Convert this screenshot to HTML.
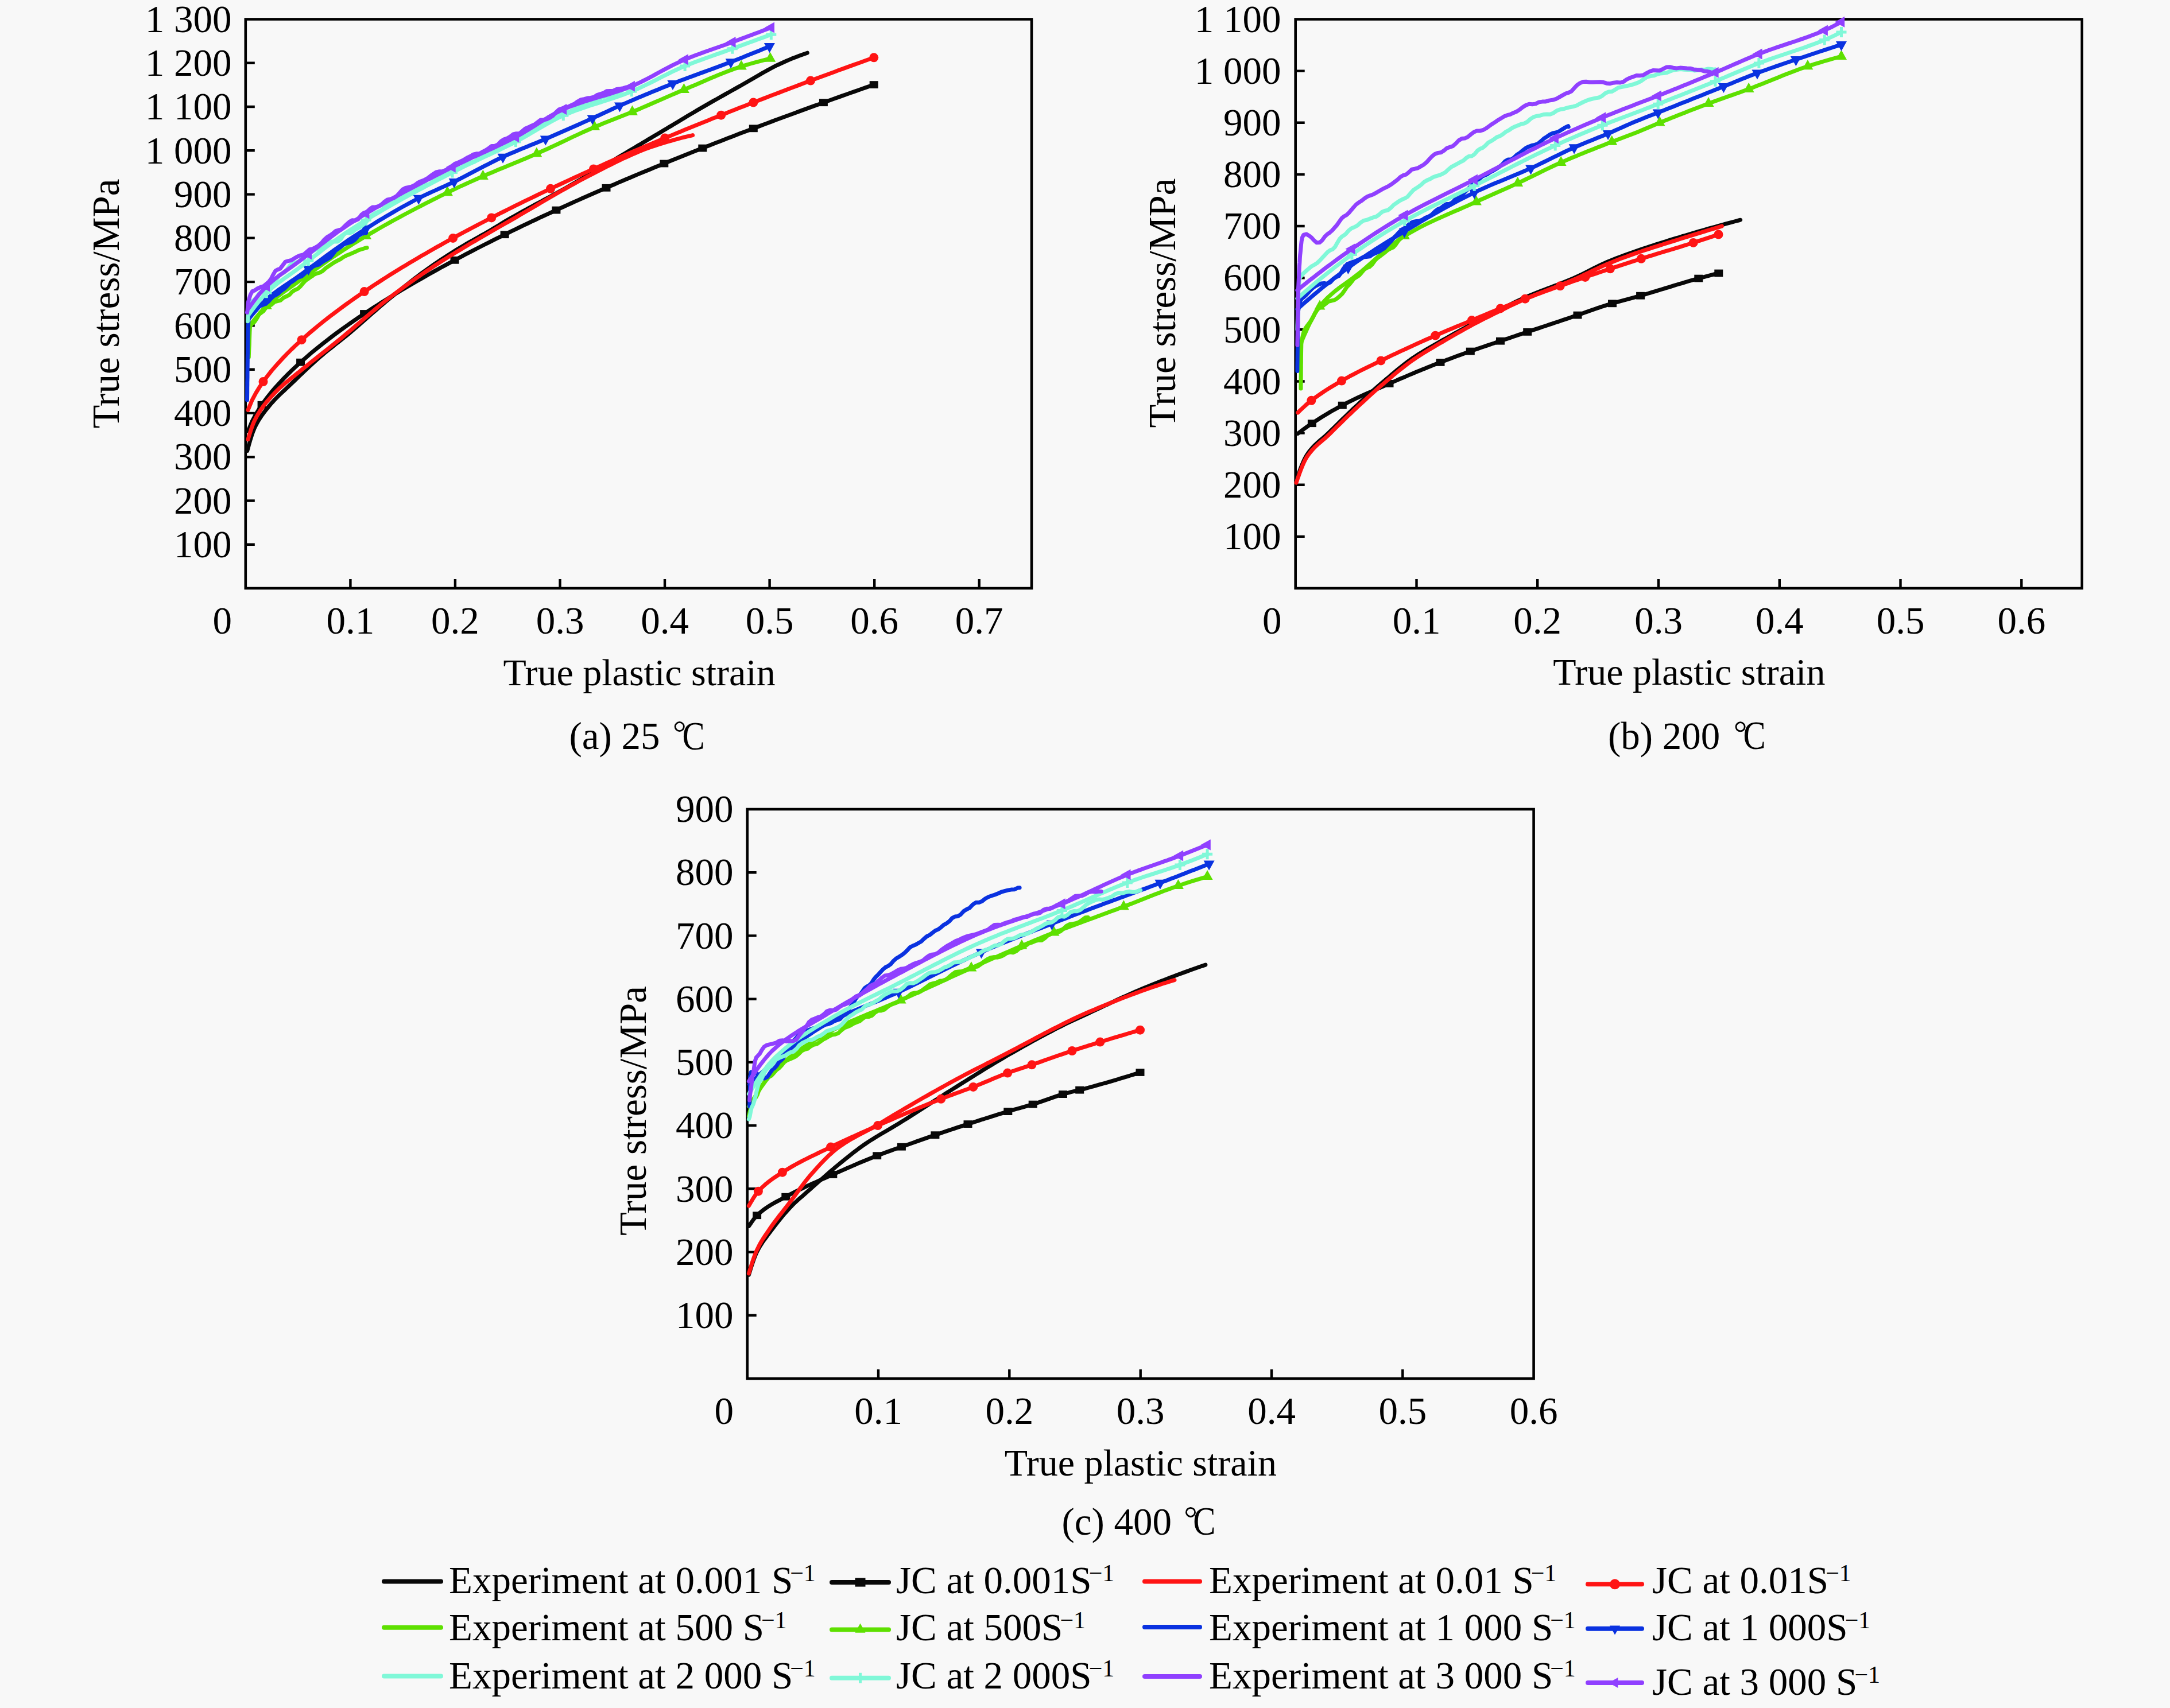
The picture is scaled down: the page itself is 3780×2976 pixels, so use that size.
<!DOCTYPE html>
<html><head><meta charset="utf-8"><style>
html,body{margin:0;padding:0;background:#f8f8f8;}
svg{display:block;}
text{font-family:"Liberation Serif",serif;fill:#000;}
</style></head><body>
<svg width="3780" height="2976" viewBox="0 0 3780 2976">
<rect width="3780" height="2976" fill="#f8f8f8"/>
<rect x="427.8" y="33.5" width="1369.2" height="991.5" fill="none" stroke="#000" stroke-width="4.6"/>
<path d="M427.8 948.7H443.8M427.8 872.5H443.8M427.8 796.2H443.8M427.8 719.9H443.8M427.8 643.7H443.8M427.8 567.4H443.8M427.8 491.1H443.8M427.8 414.8H443.8M427.8 338.6H443.8M427.8 262.3H443.8M427.8 186.0H443.8M427.8 109.8H443.8M610.4 1025.0V1009.0M792.9 1025.0V1009.0M975.5 1025.0V1009.0M1158.0 1025.0V1009.0M1340.6 1025.0V1009.0M1523.2 1025.0V1009.0M1705.7 1025.0V1009.0" stroke="#000" stroke-width="4.4" fill="none"/>
<text x="403.5" y="970.9" text-anchor="end" font-size="67" >100</text>
<text x="403.5" y="894.7" text-anchor="end" font-size="67" >200</text>
<text x="403.5" y="818.4" text-anchor="end" font-size="67" >300</text>
<text x="403.5" y="742.1" text-anchor="end" font-size="67" >400</text>
<text x="403.5" y="665.9" text-anchor="end" font-size="67" >500</text>
<text x="403.5" y="589.6" text-anchor="end" font-size="67" >600</text>
<text x="403.5" y="513.3" text-anchor="end" font-size="67" >700</text>
<text x="403.5" y="437.0" text-anchor="end" font-size="67" >800</text>
<text x="403.5" y="360.8" text-anchor="end" font-size="67" >900</text>
<text x="403.5" y="284.5" text-anchor="end" font-size="67" >1 000</text>
<text x="403.5" y="208.2" text-anchor="end" font-size="67" >1 100</text>
<text x="403.5" y="132.0" text-anchor="end" font-size="67" >1 200</text>
<text x="403.5" y="55.7" text-anchor="end" font-size="67" >1 300</text>
<text x="404.0" y="1103.5" text-anchor="end" font-size="67" >0</text>
<text x="610.4" y="1103.5" text-anchor="middle" font-size="67" >0.1</text>
<text x="792.9" y="1103.5" text-anchor="middle" font-size="67" >0.2</text>
<text x="975.5" y="1103.5" text-anchor="middle" font-size="67" >0.3</text>
<text x="1158.0" y="1103.5" text-anchor="middle" font-size="67" >0.4</text>
<text x="1340.6" y="1103.5" text-anchor="middle" font-size="67" >0.5</text>
<text x="1523.2" y="1103.5" text-anchor="middle" font-size="67" >0.6</text>
<text x="1705.7" y="1103.5" text-anchor="middle" font-size="67" >0.7</text>
<text transform="translate(206.8,529.0) rotate(-90)" text-anchor="middle" font-size="67">True stress/MPa</text>
<text x="1113.6" y="1194.0" text-anchor="middle" font-size="66" >True plastic strain</text>
<text x="991.5" y="1305.0" text-anchor="start" font-size="67" >(a) 25</text>
<circle cx="1183.7" cy="1266.0" r="7.6" fill="none" stroke="#000" stroke-width="2.8"/>
<text transform="translate(1190.9,1305.5) scale(0.84,1)" x="-2.9" font-size="70">C</text>
<rect x="2256.7" y="33.5" width="1370.0" height="991.5" fill="none" stroke="#000" stroke-width="4.6"/>
<path d="M2256.7 934.9H2272.7M2256.7 844.7H2272.7M2256.7 754.6H2272.7M2256.7 664.5H2272.7M2256.7 574.3H2272.7M2256.7 484.2H2272.7M2256.7 394.0H2272.7M2256.7 303.9H2272.7M2256.7 213.8H2272.7M2256.7 123.6H2272.7M2467.5 1025.0V1009.0M2678.2 1025.0V1009.0M2889.0 1025.0V1009.0M3099.8 1025.0V1009.0M3310.5 1025.0V1009.0M3521.3 1025.0V1009.0" stroke="#000" stroke-width="4.4" fill="none"/>
<text x="2231.5" y="957.1" text-anchor="end" font-size="67" >100</text>
<text x="2231.5" y="866.9" text-anchor="end" font-size="67" >200</text>
<text x="2231.5" y="776.8" text-anchor="end" font-size="67" >300</text>
<text x="2231.5" y="686.7" text-anchor="end" font-size="67" >400</text>
<text x="2231.5" y="596.5" text-anchor="end" font-size="67" >500</text>
<text x="2231.5" y="506.4" text-anchor="end" font-size="67" >600</text>
<text x="2231.5" y="416.2" text-anchor="end" font-size="67" >700</text>
<text x="2231.5" y="326.1" text-anchor="end" font-size="67" >800</text>
<text x="2231.5" y="236.0" text-anchor="end" font-size="67" >900</text>
<text x="2231.5" y="145.8" text-anchor="end" font-size="67" >1 000</text>
<text x="2231.5" y="55.7" text-anchor="end" font-size="67" >1 100</text>
<text x="2232.6" y="1103.5" text-anchor="end" font-size="67" >0</text>
<text x="2467.5" y="1103.5" text-anchor="middle" font-size="67" >0.1</text>
<text x="2678.2" y="1103.5" text-anchor="middle" font-size="67" >0.2</text>
<text x="2889.0" y="1103.5" text-anchor="middle" font-size="67" >0.3</text>
<text x="3099.8" y="1103.5" text-anchor="middle" font-size="67" >0.4</text>
<text x="3310.5" y="1103.5" text-anchor="middle" font-size="67" >0.5</text>
<text x="3521.3" y="1103.5" text-anchor="middle" font-size="67" >0.6</text>
<text transform="translate(2046.9,528.0) rotate(-90)" text-anchor="middle" font-size="67">True stress/MPa</text>
<text x="2942.3" y="1193.1" text-anchor="middle" font-size="66" >True plastic strain</text>
<text x="2800.9" y="1304.5" text-anchor="start" font-size="67" >(b) 200</text>
<circle cx="3031.6" cy="1266.3" r="7.6" fill="none" stroke="#000" stroke-width="2.8"/>
<text transform="translate(3038.9,1305.0) scale(0.84,1)" x="-2.9" font-size="70">C</text>
<rect x="1301.7" y="1410.0" width="1369.9" height="992.0" fill="none" stroke="#000" stroke-width="4.6"/>
<path d="M1301.7 2291.8H1317.7M1301.7 2181.6H1317.7M1301.7 2071.3H1317.7M1301.7 1961.1H1317.7M1301.7 1850.9H1317.7M1301.7 1740.7H1317.7M1301.7 1630.4H1317.7M1301.7 1520.2H1317.7M1530.0 2402.0V2386.0M1758.3 2402.0V2386.0M1986.7 2402.0V2386.0M2215.0 2402.0V2386.0M2443.3 2402.0V2386.0" stroke="#000" stroke-width="4.4" fill="none"/>
<text x="1277.5" y="2314.0" text-anchor="end" font-size="67" >100</text>
<text x="1277.5" y="2203.8" text-anchor="end" font-size="67" >200</text>
<text x="1277.5" y="2093.5" text-anchor="end" font-size="67" >300</text>
<text x="1277.5" y="1983.3" text-anchor="end" font-size="67" >400</text>
<text x="1277.5" y="1873.1" text-anchor="end" font-size="67" >500</text>
<text x="1277.5" y="1762.9" text-anchor="end" font-size="67" >600</text>
<text x="1277.5" y="1652.6" text-anchor="end" font-size="67" >700</text>
<text x="1277.5" y="1542.4" text-anchor="end" font-size="67" >800</text>
<text x="1277.5" y="1432.2" text-anchor="end" font-size="67" >900</text>
<text x="1278.0" y="2481.0" text-anchor="end" font-size="67" >0</text>
<text x="1530.0" y="2481.0" text-anchor="middle" font-size="67" >0.1</text>
<text x="1758.3" y="2481.0" text-anchor="middle" font-size="67" >0.2</text>
<text x="1986.7" y="2481.0" text-anchor="middle" font-size="67" >0.3</text>
<text x="2215.0" y="2481.0" text-anchor="middle" font-size="67" >0.4</text>
<text x="2443.3" y="2481.0" text-anchor="middle" font-size="67" >0.5</text>
<text x="2671.6" y="2481.0" text-anchor="middle" font-size="67" >0.6</text>
<text transform="translate(1124.6,1935.5) rotate(-90)" text-anchor="middle" font-size="67">True stress/MPa</text>
<text x="1986.8" y="2570.5" text-anchor="middle" font-size="66" >True plastic strain</text>
<text x="1849.5" y="2673.7" text-anchor="start" font-size="67" >(c) 400</text>
<circle cx="2074.0" cy="2634.9" r="7.6" fill="none" stroke="#000" stroke-width="2.8"/>
<text transform="translate(2080.6,2674.2) scale(0.84,1)" x="-2.9" font-size="70">C</text>
<path d="M669 2755.6H768" stroke="#080808" stroke-width="8" stroke-linecap="round"/>
<text x="782.0" y="2776.0" text-anchor="start" font-size="67" >Experiment at 0.001 S<tspan font-size="42" dx="-5" dy="-21">−1</tspan></text>
<path d="M1449 2757H1548" stroke="#080808" stroke-width="8" stroke-linecap="round"/>
<rect x="1489.5" y="2749.3" width="18.0" height="15.3" fill="#080808"/>
<text x="1561.0" y="2776.0" text-anchor="start" font-size="67" >JC at 0.001S<tspan font-size="42" dx="-5" dy="-21">−1</tspan></text>
<path d="M1994 2755.6H2090" stroke="#ff1414" stroke-width="8" stroke-linecap="round"/>
<text x="2106.0" y="2776.0" text-anchor="start" font-size="67" >Experiment at 0.01 S<tspan font-size="42" dx="-5" dy="-21">−1</tspan></text>
<path d="M2766 2760.3H2860" stroke="#ff1414" stroke-width="8" stroke-linecap="round"/>
<circle cx="2813.0" cy="2760.3" r="9.0" fill="#ff1414"/>
<text x="2878.0" y="2776.0" text-anchor="start" font-size="67" >JC at 0.01S<tspan font-size="42" dx="-5" dy="-21">−1</tspan></text>
<path d="M669 2835.7H768" stroke="#5ee000" stroke-width="8" stroke-linecap="round"/>
<text x="782.0" y="2857.5" text-anchor="start" font-size="67" >Experiment at 500 S<tspan font-size="42" dx="-5" dy="-21">−1</tspan></text>
<path d="M1449 2839.4H1548" stroke="#5ee000" stroke-width="8" stroke-linecap="round"/>
<path d="M1498.5 2828.6L1507.5 2844.8L1489.5 2844.8Z" fill="#5ee000"/>
<text x="1561.0" y="2857.5" text-anchor="start" font-size="67" >JC at 500S<tspan font-size="42" dx="-5" dy="-21">−1</tspan></text>
<path d="M1994 2835H2090" stroke="#0a32e0" stroke-width="8" stroke-linecap="round"/>
<text x="2106.0" y="2857.5" text-anchor="start" font-size="67" >Experiment at 1 000 S<tspan font-size="42" dx="-5" dy="-21">−1</tspan></text>
<path d="M2766 2837.8H2860" stroke="#0a32e0" stroke-width="8" stroke-linecap="round"/>
<path d="M2813.0 2848.6L2822.0 2832.4L2804.0 2832.4Z" fill="#0a32e0"/>
<text x="2878.0" y="2857.5" text-anchor="start" font-size="67" >JC at 1 000S<tspan font-size="42" dx="-5" dy="-21">−1</tspan></text>
<path d="M669 2920.5H768" stroke="#80f8d8" stroke-width="8" stroke-linecap="round"/>
<text x="782.0" y="2942.0" text-anchor="start" font-size="67" >Experiment at 2 000 S<tspan font-size="42" dx="-5" dy="-21">−1</tspan></text>
<path d="M1449 2923.8H1548" stroke="#80f8d8" stroke-width="8" stroke-linecap="round"/>
<path d="M1489.5 2923.8H1507.5M1498.5 2914.8V2932.8" stroke="#80f8d8" stroke-width="5"/>
<text x="1561.0" y="2942.0" text-anchor="start" font-size="67" >JC at 2 000S<tspan font-size="42" dx="-5" dy="-21">−1</tspan></text>
<path d="M1994 2921H2090" stroke="#9040ff" stroke-width="8" stroke-linecap="round"/>
<text x="2106.0" y="2942.0" text-anchor="start" font-size="67" >Experiment at 3 000 S<tspan font-size="42" dx="-5" dy="-21">−1</tspan></text>
<path d="M2766 2932H2860" stroke="#9040ff" stroke-width="8" stroke-linecap="round"/>
<path d="M2802.2 2932.0L2818.4 2923.0L2818.4 2941.0Z" fill="#9040ff"/>
<text x="2878.0" y="2953.0" text-anchor="start" font-size="67" >JC at 3 000 S<tspan font-size="42" dx="-5" dy="-21">−1</tspan></text>
<path d="M430.7 785.5 L432.3 779.7 L433.9 773.9 L435.5 768.2 L437.3 762.4 L439.1 756.7 L441.2 751.1 L443.5 745.5 L446.1 740.2 L449.0 734.9 L452.1 729.8 L455.4 724.8 L458.9 719.9 L462.6 715.1 L466.4 710.5 L470.2 705.8 L474.1 701.3 L478.1 696.9 L482.3 692.6 L486.6 688.3 L490.9 684.2 L495.3 680.1 L499.7 676.0 L504.0 671.9 L508.4 667.7 L512.7 663.6 L517.0 659.4 L521.3 655.2 L525.7 651.1 L530.0 647.0 L534.4 642.9 L538.8 638.8 L543.2 634.7 L547.6 630.7 L552.1 626.7 L556.6 622.7 L561.2 618.8 L565.8 614.9 L570.4 611.1 L575.1 607.4 L579.8 603.7 L584.5 599.9 L589.2 596.2 L593.9 592.5 L598.6 588.8 L603.3 585.0 L607.9 581.2 L612.5 577.3 L617.1 573.4 L621.6 569.5 L626.1 565.6 L630.6 561.6 L635.2 557.6 L639.7 553.7 L644.2 549.7 L648.7 545.7 L653.2 541.8 L657.7 537.8 L662.2 533.9 L666.8 530.0 L671.4 526.1 L676.0 522.3 L680.6 518.5 L685.3 514.7 L689.9 510.9 L694.6 507.1 L699.2 503.4 L703.9 499.6 L708.6 495.9 L713.3 492.2 L718.1 488.5 L722.8 484.8 L727.6 481.2 L732.4 477.6 L737.2 474.0 L742.1 470.5 L747.0 467.0 L751.9 463.6 L756.8 460.2 L761.8 456.8 L766.8 453.4 L771.8 450.1 L776.8 446.8 L781.8 443.6 L786.9 440.4 L792.0 437.2 L797.1 434.0 L802.2 431.0 L807.4 427.9 L812.6 424.9 L817.8 421.9 L823.0 419.0 L828.2 416.0 L833.5 413.1 L838.7 410.1 L843.9 407.2 L849.1 404.2 L854.3 401.2 L859.5 398.1 L864.6 395.0 L869.7 391.9 L874.8 388.7 L880.0 385.6 L885.2 382.6 L890.4 379.6 L895.6 376.7 L900.8 373.7 L906.1 370.8 L911.3 367.9 L916.6 365.0 L921.8 362.1 L927.1 359.3 L932.4 356.4 L937.7 353.6 L943.0 350.8 L948.2 347.9 L953.5 345.1 L958.8 342.2 L964.1 339.3 L969.3 336.5 L974.6 333.6 L979.8 330.7 L985.1 327.7 L990.3 324.8 L995.5 321.8 L1000.7 318.8 L1005.9 315.8 L1011.1 312.8 L1016.3 309.8 L1021.5 306.8 L1026.7 303.8 L1031.9 300.8 L1037.0 297.8 L1042.2 294.7 L1047.4 291.7 L1052.6 288.6 L1057.7 285.6 L1062.9 282.5 L1068.1 279.5 L1073.2 276.4 L1078.4 273.3 L1083.5 270.3 L1088.7 267.2 L1093.9 264.1 L1099.0 261.1 L1104.2 258.0 L1109.3 254.9 L1114.5 251.9 L1119.6 248.8 L1124.8 245.7 L1129.9 242.6 L1135.1 239.6 L1140.2 236.5 L1145.4 233.4 L1150.6 230.4 L1155.7 227.3 L1160.9 224.2 L1166.0 221.1 L1171.2 218.1 L1176.3 215.0 L1181.4 211.9 L1186.6 208.8 L1191.7 205.7 L1196.9 202.6 L1202.0 199.5 L1207.2 196.5 L1212.3 193.4 L1217.5 190.4 L1222.7 187.4 L1227.9 184.4 L1233.1 181.4 L1238.3 178.4 L1243.5 175.4 L1248.8 172.5 L1254.0 169.5 L1259.2 166.6 L1264.4 163.6 L1269.7 160.7 L1274.9 157.8 L1280.1 154.9 L1285.4 151.9 L1290.6 149.0 L1295.8 146.0 L1301.0 143.0 L1306.2 140.0 L1311.4 137.0 L1316.6 134.0 L1321.8 130.9 L1327.0 127.9 L1332.2 125.0 L1337.4 122.1 L1342.7 119.2 L1348.0 116.4 L1353.4 113.7 L1358.8 111.2 L1364.3 108.7 L1369.7 106.3 L1375.3 103.9 L1380.8 101.6 L1386.4 99.4 L1392.0 97.3 L1397.6 95.2 L1403.3 93.2 L1406.3 92.2" fill="none" stroke="#080808" stroke-width="7.0" stroke-linejoin="round" stroke-linecap="round"/>
<path d="M432.0 751.3 L438.9 734.5 L445.7 721.5 L452.6 710.5 L459.4 700.5 L466.3 691.4 L473.1 682.9 L480.0 674.9 L486.9 667.3 L493.7 660.0 L500.6 653.0 L507.4 646.2 L514.3 639.7 L521.1 633.4 L528.0 627.3 L534.9 621.3 L541.7 615.4 L548.6 609.7 L555.4 604.2 L562.3 598.7 L569.1 593.4 L576.0 588.1 L582.9 582.9 L589.7 577.9 L596.6 572.9 L603.4 568.0 L610.3 563.1 L617.1 558.4 L624.0 553.7 L630.8 549.1 L637.7 544.5 L644.6 540.0 L651.4 535.5 L658.3 531.1 L665.1 526.7 L672.0 522.4 L678.8 518.2 L685.7 513.9 L692.6 509.8 L699.4 505.6 L706.3 501.5 L713.1 497.5 L720.0 493.5 L726.8 489.5 L733.7 485.6 L740.6 481.7 L747.4 477.8 L754.3 473.9 L761.1 470.1 L768.0 466.3 L774.8 462.6 L781.7 458.9 L788.6 455.2 L795.4 451.5 L802.3 447.9 L809.1 444.2 L816.0 440.7 L822.8 437.1 L829.7 433.5 L836.6 430.0 L843.4 426.5 L850.3 423.1 L857.1 419.6 L864.0 416.2 L870.8 412.8 L877.7 409.4 L884.6 406.0 L891.4 402.7 L898.3 399.3 L905.1 396.0 L912.0 392.7 L918.8 389.5 L925.7 386.2 L932.6 383.0 L939.4 379.7 L946.3 376.5 L953.1 373.3 L960.0 370.2 L966.8 367.0 L973.7 363.9 L980.6 360.7 L987.4 357.6 L994.3 354.5 L1001.1 351.4 L1008.0 348.4 L1014.8 345.3 L1021.7 342.3 L1028.5 339.3 L1035.4 336.2 L1042.3 333.2 L1049.1 330.3 L1056.0 327.3 L1062.8 324.3 L1069.7 321.4 L1076.5 318.4 L1083.4 315.5 L1090.3 312.6 L1097.1 309.7 L1104.0 306.8 L1110.8 303.9 L1117.7 301.1 L1124.5 298.2 L1131.4 295.4 L1138.3 292.5 L1145.1 289.7 L1152.0 286.9 L1158.8 284.1 L1165.7 281.3 L1172.5 278.5 L1179.4 275.7 L1186.3 273.0 L1193.1 270.2 L1200.0 267.5 L1206.8 264.8 L1213.7 262.0 L1220.5 259.3 L1227.4 256.6 L1234.3 253.9 L1241.1 251.2 L1248.0 248.5 L1254.8 245.9 L1261.7 243.2 L1268.5 240.6 L1275.4 237.9 L1282.3 235.3 L1289.1 232.6 L1296.0 230.0 L1302.8 227.4 L1309.7 224.8 L1316.5 222.2 L1323.4 219.6 L1330.3 217.0 L1337.1 214.5 L1344.0 211.9 L1350.8 209.3 L1357.7 206.8 L1364.5 204.2 L1371.4 201.7 L1378.3 199.2 L1385.1 196.7 L1392.0 194.1 L1398.8 191.6 L1405.7 189.1 L1412.5 186.6 L1419.4 184.1 L1426.3 181.7 L1433.1 179.2 L1440.0 176.7 L1446.8 174.3 L1453.7 171.8 L1460.5 169.4 L1467.4 166.9 L1474.2 164.5 L1481.1 162.0 L1488.0 159.6 L1494.8 157.2 L1501.7 154.8 L1508.5 152.4 L1515.4 150.0 L1522.2 147.6" fill="none" stroke="#080808" stroke-width="7.0" stroke-linejoin="round" stroke-linecap="round"/>
<rect x="448.6" y="698.9" width="15.0" height="12.8" fill="#080808"/><rect x="516.1" y="624.8" width="15.0" height="12.8" fill="#080808"/><rect x="627.1" y="540.1" width="15.0" height="12.8" fill="#080808"/><rect x="784.5" y="446.9" width="15.0" height="12.8" fill="#080808"/><rect x="871.6" y="402.3" width="15.0" height="12.8" fill="#080808"/><rect x="961.4" y="359.7" width="15.0" height="12.8" fill="#080808"/><rect x="1048.5" y="320.9" width="15.0" height="12.8" fill="#080808"/><rect x="1149.3" y="278.6" width="15.0" height="12.8" fill="#080808"/><rect x="1216.3" y="251.7" width="15.0" height="12.8" fill="#080808"/><rect x="1304.8" y="217.4" width="15.0" height="12.8" fill="#080808"/><rect x="1426.9" y="172.3" width="15.0" height="12.8" fill="#080808"/><rect x="1514.7" y="141.2" width="15.0" height="12.8" fill="#080808"/>
<path d="M432.0 765.7 L433.7 759.9 L435.5 754.2 L437.3 748.5 L439.3 742.8 L441.4 737.2 L443.9 731.8 L446.7 726.5 L449.7 721.2 L452.8 716.1 L456.2 711.2 L459.7 706.3 L463.4 701.6 L467.3 697.0 L471.3 692.5 L475.3 688.1 L479.4 683.7 L483.6 679.5 L488.0 675.3 L492.5 671.3 L497.0 667.4 L501.6 663.6 L506.3 659.8 L511.0 656.1 L515.7 652.3 L520.4 648.6 L525.0 644.8 L529.6 641.0 L534.3 637.2 L538.9 633.4 L543.6 629.6 L548.3 625.9 L553.0 622.2 L557.7 618.4 L562.4 614.7 L567.2 611.0 L571.9 607.3 L576.6 603.6 L581.3 599.8 L585.9 596.1 L590.6 592.3 L595.2 588.5 L599.8 584.6 L604.4 580.8 L609.0 576.9 L613.6 573.0 L618.1 569.1 L622.7 565.2 L627.2 561.3 L631.8 557.4 L636.3 553.5 L640.9 549.6 L645.5 545.7 L650.1 541.8 L654.7 538.0 L659.3 534.1 L663.9 530.3 L668.6 526.6 L673.3 522.8 L678.0 519.2 L682.8 515.5 L687.6 511.9 L692.4 508.3 L697.2 504.7 L702.0 501.1 L706.9 497.6 L711.7 494.1 L716.6 490.6 L721.5 487.1 L726.4 483.7 L731.3 480.3 L736.3 476.9 L741.2 473.5 L746.2 470.1 L751.2 466.8 L756.2 463.5 L761.3 460.3 L766.3 457.0 L771.4 453.8 L776.5 450.6 L781.6 447.4 L786.7 444.3 L791.8 441.1 L796.9 438.0 L802.0 434.9 L807.2 431.8 L812.3 428.7 L817.5 425.6 L822.6 422.6 L827.8 419.6 L833.0 416.5 L838.2 413.5 L843.4 410.5 L848.6 407.5 L853.7 404.5 L858.9 401.5 L864.1 398.5 L869.3 395.5 L874.5 392.5 L879.8 389.5 L885.0 386.6 L890.2 383.6 L895.4 380.6 L900.6 377.6 L905.7 374.6 L910.9 371.5 L916.1 368.5 L921.3 365.5 L926.5 362.4 L931.6 359.4 L936.8 356.4 L942.0 353.3 L947.2 350.3 L952.4 347.3 L957.5 344.3 L962.7 341.3 L967.9 338.3 L973.1 335.3 L978.3 332.3 L983.6 329.4 L988.8 326.4 L994.0 323.5 L999.3 320.6 L1004.5 317.7 L1009.8 314.8 L1015.1 312.0 L1020.4 309.2 L1025.7 306.4 L1031.1 303.7 L1036.4 300.9 L1041.7 298.2 L1047.1 295.4 L1052.4 292.7 L1057.7 290.0 L1063.1 287.3 L1068.5 284.6 L1073.9 281.9 L1079.3 279.3 L1084.7 276.7 L1090.1 274.2 L1095.6 271.7 L1101.0 269.2 L1106.5 266.9 L1112.1 264.5 L1117.6 262.3 L1123.2 260.1 L1128.9 258.0 L1134.5 256.0 L1140.2 254.1 L1145.9 252.2 L1151.6 250.4 L1157.4 248.7 L1163.1 246.9 L1168.9 245.3 L1174.6 243.6 L1180.4 242.1 L1186.2 240.5 L1192.0 239.0 L1197.9 237.6 L1203.7 236.3 L1206.6 235.6" fill="none" stroke="#ff1414" stroke-width="7.0" stroke-linejoin="round" stroke-linecap="round"/>
<path d="M432.0 714.4 L438.9 697.7 L445.7 684.8 L452.6 673.7 L459.4 663.7 L466.3 654.6 L473.1 646.0 L480.0 638.0 L486.9 630.3 L493.7 623.0 L500.6 615.9 L507.4 609.1 L514.3 602.5 L521.1 596.2 L528.0 589.9 L534.9 583.9 L541.7 578.0 L548.6 572.2 L555.4 566.6 L562.3 561.1 L569.1 555.6 L576.0 550.3 L582.9 545.1 L589.7 540.0 L596.6 534.9 L603.4 529.9 L610.3 525.0 L617.1 520.2 L624.0 515.4 L630.8 510.7 L637.7 506.1 L644.6 501.5 L651.4 496.9 L658.3 492.5 L665.1 488.0 L672.0 483.6 L678.8 479.3 L685.7 475.0 L692.6 470.8 L699.4 466.6 L706.3 462.4 L713.1 458.3 L720.0 454.2 L726.8 450.2 L733.7 446.1 L740.6 442.2 L747.4 438.2 L754.3 434.3 L761.1 430.4 L768.0 426.6 L774.8 422.7 L781.7 418.9 L788.6 415.2 L795.4 411.4 L802.3 407.7 L809.1 404.0 L816.0 400.4 L822.8 396.7 L829.7 393.1 L836.6 389.5 L843.4 386.0 L850.3 382.4 L857.1 378.9 L864.0 375.4 L870.8 371.9 L877.7 368.5 L884.6 365.0 L891.4 361.6 L898.3 358.2 L905.1 354.8 L912.0 351.4 L918.8 348.1 L925.7 344.8 L932.6 341.5 L939.4 338.2 L946.3 334.9 L953.1 331.6 L960.0 328.4 L966.8 325.2 L973.7 322.0 L980.6 318.8 L987.4 315.6 L994.3 312.4 L1001.1 309.3 L1008.0 306.1 L1014.8 303.0 L1021.7 299.9 L1028.5 296.8 L1035.4 293.7 L1042.3 290.6 L1049.1 287.6 L1056.0 284.5 L1062.8 281.5 L1069.7 278.5 L1076.5 275.5 L1083.4 272.5 L1090.3 269.5 L1097.1 266.5 L1104.0 263.6 L1110.8 260.6 L1117.7 257.7 L1124.5 254.8 L1131.4 251.9 L1138.3 249.0 L1145.1 246.1 L1152.0 243.2 L1158.8 240.3 L1165.7 237.5 L1172.5 234.6 L1179.4 231.8 L1186.3 228.9 L1193.1 226.1 L1200.0 223.3 L1206.8 220.5 L1213.7 217.7 L1220.5 214.9 L1227.4 212.2 L1234.3 209.4 L1241.1 206.6 L1248.0 203.9 L1254.8 201.1 L1261.7 198.4 L1268.5 195.7 L1275.4 193.0 L1282.3 190.3 L1289.1 187.6 L1296.0 184.9 L1302.8 182.2 L1309.7 179.5 L1316.5 176.9 L1323.4 174.2 L1330.3 171.6 L1337.1 168.9 L1344.0 166.3 L1350.8 163.7 L1357.7 161.1 L1364.5 158.5 L1371.4 155.9 L1378.3 153.3 L1385.1 150.7 L1392.0 148.1 L1398.8 145.5 L1405.7 142.9 L1412.5 140.4 L1419.4 137.8 L1426.3 135.3 L1433.1 132.7 L1440.0 130.2 L1446.8 127.7 L1453.7 125.2 L1460.5 122.6 L1467.4 120.1 L1474.2 117.6 L1481.1 115.1 L1488.0 112.6 L1494.8 110.2 L1501.7 107.7 L1508.5 105.2 L1515.4 102.8 L1522.2 100.3" fill="none" stroke="#ff1414" stroke-width="7.0" stroke-linejoin="round" stroke-linecap="round"/>
<circle cx="458.5" cy="665.1" r="8.0" fill="#ff1414"/><circle cx="525.5" cy="592.2" r="8.0" fill="#ff1414"/><circle cx="634.6" cy="508.1" r="8.0" fill="#ff1414"/><circle cx="789.1" cy="414.9" r="8.0" fill="#ff1414"/><circle cx="856.1" cy="379.4" r="8.0" fill="#ff1414"/><circle cx="959.0" cy="328.8" r="8.0" fill="#ff1414"/><circle cx="1033.9" cy="294.4" r="8.0" fill="#ff1414"/><circle cx="1158.2" cy="240.6" r="8.0" fill="#ff1414"/><circle cx="1256.1" cy="200.7" r="8.0" fill="#ff1414"/><circle cx="1312.3" cy="178.5" r="8.0" fill="#ff1414"/><circle cx="1412.0" cy="140.6" r="8.0" fill="#ff1414"/><circle cx="1522.2" cy="100.3" r="8.0" fill="#ff1414"/>
<path d="M433.3 622.3 L433.5 616.5 L433.7 611.2 L433.9 606.4 L434.2 601.2 L434.4 593.7 L434.7 585.4 L435.0 577.7 L435.3 572.2 L435.8 568.2 L438.4 564.6 L443.2 561.0 L447.5 554.5 L451.3 547.8 L455.0 544.9 L458.8 542.1 L463.0 536.5 L467.8 533.5 L472.8 530.9 L478.0 526.1 L483.3 524.7 L488.6 523.3 L493.9 518.7 L499.1 516.3 L504.1 513.7 L509.0 508.3 L513.8 505.2 L518.5 503.3 L523.1 499.2 L527.8 493.6 L532.4 488.7 L537.2 485.5 L541.9 482.2 L546.8 478.7 L551.9 476.3 L557.0 475.1 L562.3 471.9 L567.5 467.2 L572.7 463.6 L577.8 460.1 L582.9 456.8 L587.9 454.2 L593.0 451.6 L598.1 448.0 L603.3 445.3 L608.6 443.2 L614.0 440.9 L619.5 438.5 L625.2 435.6 L630.9 434.0 L636.7 432.2 L639.2 431.6" fill="none" stroke="#5ee000" stroke-width="7.0" stroke-linejoin="round" stroke-linecap="round"/>
<path d="M435.1 567.4 L440.8 560.0 L446.5 552.8 L452.2 545.9 L457.9 539.5 L463.6 533.7 L469.3 528.5 L475.0 523.5 L480.7 518.9 L486.4 514.5 L492.1 510.3 L497.8 506.2 L503.5 502.2 L509.2 498.1 L514.9 494.1 L520.6 490.0 L526.3 485.8 L532.0 481.7 L537.7 477.6 L543.4 473.5 L549.1 469.4 L554.8 465.4 L560.5 461.3 L566.2 457.3 L571.9 453.4 L577.6 449.4 L583.4 445.6 L589.1 441.7 L594.8 438.0 L600.5 434.2 L606.2 430.6 L611.9 427.0 L617.6 423.4 L623.3 420.0 L629.0 416.5 L634.7 413.1 L640.4 409.7 L646.1 406.4 L651.8 403.1 L657.5 399.8 L663.2 396.5 L668.9 393.3 L674.6 390.1 L680.3 386.9 L686.0 383.8 L691.7 380.7 L697.4 377.6 L703.1 374.5 L708.8 371.5 L714.5 368.5 L720.2 365.5 L725.9 362.5 L731.6 359.6 L737.3 356.6 L743.0 353.7 L748.7 350.8 L754.4 347.9 L760.1 345.1 L765.8 342.2 L771.5 339.4 L777.2 336.6 L782.9 333.8 L788.6 331.1 L794.3 328.4 L800.0 325.7 L805.7 323.1 L811.4 320.5 L817.1 317.9 L822.8 315.4 L828.5 312.8 L834.2 310.3 L839.9 307.8 L845.6 305.3 L851.3 302.8 L857.0 300.4 L862.7 298.0 L868.4 295.6 L874.1 293.2 L879.8 290.9 L885.5 288.5 L891.2 286.2 L897.0 283.8 L902.7 281.5 L908.4 279.1 L914.1 276.7 L919.8 274.3 L925.5 271.8 L931.2 269.4 L936.9 266.9 L942.6 264.3 L948.3 261.8 L954.0 259.2 L959.7 256.5 L965.4 253.8 L971.1 251.2 L976.8 248.5 L982.5 245.8 L988.2 243.1 L993.9 240.4 L999.6 237.7 L1005.3 235.1 L1011.0 232.4 L1016.7 229.8 L1022.4 227.2 L1028.1 224.7 L1033.8 222.2 L1039.5 219.8 L1045.2 217.4 L1050.9 215.0 L1056.6 212.7 L1062.3 210.5 L1068.0 208.2 L1073.7 206.0 L1079.4 203.8 L1085.1 201.5 L1090.8 199.3 L1096.5 197.0 L1102.2 194.6 L1107.9 192.3 L1113.6 189.9 L1119.3 187.4 L1125.0 185.0 L1130.7 182.5 L1136.4 180.0 L1142.1 177.6 L1147.8 175.1 L1153.5 172.6 L1159.2 170.1 L1164.9 167.6 L1170.6 165.1 L1176.3 162.7 L1182.0 160.3 L1187.7 157.8 L1193.4 155.5 L1199.1 153.0 L1204.9 150.6 L1210.6 148.2 L1216.3 145.7 L1222.0 143.2 L1227.7 140.7 L1233.4 138.3 L1239.1 135.8 L1244.8 133.4 L1250.5 131.1 L1256.2 128.7 L1261.9 126.5 L1267.6 124.2 L1273.3 122.1 L1279.0 120.0 L1284.7 118.1 L1290.4 116.2 L1296.1 114.4 L1301.8 112.6 L1307.5 111.0 L1313.2 109.3 L1318.9 107.8 L1324.6 106.3 L1330.3 104.9 L1336.0 103.5 L1341.7 102.1" fill="none" stroke="#5ee000" stroke-width="7.0" stroke-linejoin="round" stroke-linecap="round"/>
<path d="M464.3 521.7L473.8 538.8L454.8 538.8Z" fill="#5ee000"/><path d="M537.3 466.5L546.8 483.6L527.8 483.6Z" fill="#5ee000"/><path d="M637.7 399.9L647.2 417.0L628.2 417.0Z" fill="#5ee000"/><path d="M779.4 324.1L788.9 341.2L769.9 341.2Z" fill="#5ee000"/><path d="M841.3 295.8L850.8 312.9L831.8 312.9Z" fill="#5ee000"/><path d="M934.8 256.4L944.3 273.5L925.3 273.5Z" fill="#5ee000"/><path d="M1035.7 210.0L1045.2 227.1L1026.2 227.1Z" fill="#5ee000"/><path d="M1101.4 183.6L1110.9 200.7L1091.9 200.7Z" fill="#5ee000"/><path d="M1191.4 144.9L1200.9 162.0L1181.9 162.0Z" fill="#5ee000"/><path d="M1291.3 104.5L1300.8 121.6L1281.8 121.6Z" fill="#5ee000"/><path d="M1341.7 90.7L1351.2 107.8L1332.2 107.8Z" fill="#5ee000"/>
<path d="M430.5 697.0 L430.6 691.3 L430.7 683.5 L430.7 675.5 L430.8 670.4 L430.8 667.1 L430.9 662.1 L431.0 657.1 L431.0 652.1 L431.1 643.9 L431.2 634.9 L431.3 629.3 L431.3 624.4 L431.4 619.1 L431.5 615.7 L431.5 611.1 L431.6 603.7 L431.7 596.6 L431.9 589.7 L432.0 581.6 L432.1 575.2 L432.3 571.0 L432.5 566.1 L432.9 558.7 L433.3 550.9 L434.1 545.1 L437.7 540.7 L442.8 537.1 L448.5 535.1 L453.7 533.1 L458.5 531.1 L463.2 529.0 L467.7 525.3 L472.3 520.0 L476.8 515.9 L481.3 513.6 L485.9 510.5 L490.6 506.2 L495.3 503.0 L500.2 498.3 L505.1 492.9 L510.0 489.9 L515.0 486.1 L520.0 483.1 L525.0 481.7 L530.1 477.4 L535.1 472.4 L540.1 468.8 L545.1 464.6 L550.2 462.4 L555.2 461.1 L560.2 457.4 L565.1 454.2 L569.9 451.9 L574.7 448.9 L579.5 443.4 L584.3 437.0 L589.0 433.6 L593.8 430.2 L598.7 426.0 L603.6 424.0 L608.6 422.7 L613.6 421.0 L618.8 417.1 L624.1 410.9 L629.5 407.7 L634.9 406.2 L637.7 405.7" fill="none" stroke="#0a32e0" stroke-width="7.0" stroke-linejoin="round" stroke-linecap="round"/>
<path d="M433.3 555.9 L439.0 548.9 L444.7 542.1 L450.4 535.6 L456.1 529.5 L461.8 523.9 L467.5 518.8 L473.2 514.1 L478.9 509.7 L484.6 505.5 L490.3 501.6 L496.0 497.7 L501.7 493.9 L507.4 490.0 L513.2 486.1 L518.9 482.1 L524.6 478.0 L530.3 473.8 L536.0 469.6 L541.7 465.4 L547.4 461.2 L553.1 457.0 L558.8 452.8 L564.5 448.6 L570.2 444.4 L575.9 440.2 L581.6 436.1 L587.3 432.0 L593.0 428.0 L598.7 424.0 L604.4 420.0 L610.1 416.2 L615.8 412.4 L621.6 408.7 L627.3 405.0 L633.0 401.4 L638.7 397.8 L644.4 394.2 L650.1 390.6 L655.8 387.1 L661.5 383.6 L667.2 380.2 L672.9 376.8 L678.6 373.4 L684.3 370.1 L690.0 366.8 L695.7 363.5 L701.4 360.3 L707.1 357.2 L712.8 354.1 L718.5 351.0 L724.2 348.0 L730.0 345.1 L735.7 342.2 L741.4 339.4 L747.1 336.8 L752.8 334.1 L758.5 331.6 L764.2 329.0 L769.9 326.4 L775.6 323.9 L781.3 321.3 L787.0 318.6 L792.7 315.8 L798.4 313.0 L804.1 310.1 L809.8 307.2 L815.5 304.2 L821.2 301.2 L826.9 298.2 L832.6 295.2 L838.4 292.2 L844.1 289.2 L849.8 286.3 L855.5 283.3 L861.2 280.5 L866.9 277.7 L872.6 275.0 L878.3 272.4 L884.0 269.8 L889.7 267.3 L895.4 264.9 L901.1 262.5 L906.8 260.1 L912.5 257.8 L918.2 255.5 L923.9 253.1 L929.6 250.8 L935.3 248.5 L941.0 246.1 L946.8 243.7 L952.5 241.2 L958.2 238.8 L963.9 236.3 L969.6 233.8 L975.3 231.3 L981.0 228.8 L986.7 226.3 L992.4 223.8 L998.1 221.3 L1003.8 218.7 L1009.5 216.2 L1015.2 213.6 L1020.9 211.1 L1026.6 208.5 L1032.3 205.9 L1038.0 203.3 L1043.7 200.7 L1049.4 198.0 L1055.2 195.3 L1060.9 192.7 L1066.6 190.0 L1072.3 187.4 L1078.0 184.9 L1083.7 182.4 L1089.4 179.9 L1095.1 177.4 L1100.8 175.0 L1106.5 172.5 L1112.2 170.1 L1117.9 167.7 L1123.6 165.3 L1129.3 162.9 L1135.0 160.6 L1140.7 158.2 L1146.4 155.9 L1152.1 153.6 L1157.8 151.3 L1163.6 149.0 L1169.3 146.7 L1175.0 144.5 L1180.7 142.3 L1186.4 140.1 L1192.1 137.9 L1197.8 135.8 L1203.5 133.7 L1209.2 131.6 L1214.9 129.5 L1220.6 127.4 L1226.3 125.4 L1232.0 123.3 L1237.7 121.2 L1243.4 119.1 L1249.1 117.0 L1254.8 114.9 L1260.5 112.8 L1266.2 110.6 L1272.0 108.4 L1277.7 106.2 L1283.4 103.9 L1289.1 101.7 L1294.8 99.4 L1300.5 97.1 L1306.2 94.8 L1311.9 92.5 L1317.6 90.2 L1323.3 87.9 L1329.0 85.5 L1334.7 83.2 L1340.4 80.8" fill="none" stroke="#0a32e0" stroke-width="7.0" stroke-linejoin="round" stroke-linecap="round"/>
<path d="M464.3 533.0L473.8 515.9L454.8 515.9Z" fill="#0a32e0"/><path d="M537.3 480.0L546.8 462.9L527.8 462.9Z" fill="#0a32e0"/><path d="M637.7 409.8L647.2 392.7L628.2 392.7Z" fill="#0a32e0"/><path d="M729.2 356.8L738.7 339.7L719.7 339.7Z" fill="#0a32e0"/><path d="M791.1 328.0L800.6 310.9L781.6 310.9Z" fill="#0a32e0"/><path d="M876.0 284.8L885.5 267.7L866.5 267.7Z" fill="#0a32e0"/><path d="M950.3 253.6L959.8 236.5L940.8 236.5Z" fill="#0a32e0"/><path d="M1032.1 217.5L1041.6 200.4L1022.6 200.4Z" fill="#0a32e0"/><path d="M1079.5 195.6L1089.0 178.5L1070.0 178.5Z" fill="#0a32e0"/><path d="M1171.9 157.1L1181.4 140.0L1162.4 140.0Z" fill="#0a32e0"/><path d="M1273.1 119.4L1282.6 102.3L1263.6 102.3Z" fill="#0a32e0"/><path d="M1340.4 92.2L1349.9 75.1L1330.9 75.1Z" fill="#0a32e0"/>
<path d="M431.5 559.8 L431.9 552.5 L432.4 546.9 L432.8 543.5 L433.7 537.4 L436.0 528.9 L438.8 524.8 L442.2 523.2 L446.3 518.7 L451.3 511.5 L456.4 508.0 L461.3 508.2 L465.5 504.1 L469.7 496.6 L473.8 492.4 L477.9 490.6 L482.1 485.9 L486.4 479.7 L490.8 476.9 L495.5 474.6 L500.3 468.9 L505.3 462.3 L510.3 457.9 L515.5 457.3 L520.6 455.8 L525.9 450.0 L531.1 445.7 L536.3 443.7 L541.4 440.2 L546.6 436.4 L551.8 434.3 L556.9 434.2 L562.1 432.8 L567.3 427.9 L572.5 423.1 L577.7 421.1 L582.9 421.1 L588.1 420.9 L593.3 417.0 L598.4 409.3 L603.6 405.1 L608.7 406.2 L613.8 404.5 L618.9 399.9 L623.9 397.3 L628.9 394.6 L633.8 390.8 L638.8 385.8 L643.7 379.0 L648.6 374.6 L653.5 371.4 L658.4 369.3 L663.3 367.3 L668.2 363.0 L673.1 359.0 L678.1 354.9 L683.1 351.7 L688.2 349.0 L693.3 345.6 L698.5 343.9 L703.7 341.3 L708.9 338.4 L714.2 335.6 L719.5 330.8 L724.8 327.0 L730.1 325.3 L735.5 322.7 L740.8 321.1 L746.2 321.7 L751.6 318.5 L756.9 312.3 L762.3 308.7 L767.7 306.6 L773.1 304.3 L778.4 301.9 L783.8 301.1 L789.1 299.9 L794.5 296.0 L799.8 293.1 L805.1 291.2 L810.5 287.3 L815.8 283.0 L821.1 282.7 L826.4 282.0 L831.8 277.0 L837.1 272.6 L842.4 271.2 L847.8 269.6 L853.1 265.2 L858.4 261.8 L863.8 262.2 L869.1 260.1 L874.4 254.8 L879.7 250.0 L885.1 247.3 L890.4 247.8 L895.7 246.2 L901.0 242.2 L906.3 238.0 L911.6 232.6 L916.9 228.7 L922.1 226.8 L927.4 224.3 L932.7 221.9 L938.0 220.9 L943.3 217.9 L948.6 212.8 L953.9 209.7 L959.3 209.7 L964.6 208.8 L970.0 204.4 L975.4 200.7 L980.9 198.3 L986.4 195.7 L991.9 194.6 L997.4 192.0 L1002.9 187.9 L1008.4 186.4 L1014.0 184.4 L1019.6 182.1 L1025.2 180.9 L1030.7 179.3 L1036.3 178.4 L1041.9 175.2 L1047.5 170.3 L1053.2 168.3 L1058.8 167.0 L1064.4 165.9 L1070.0 163.6 L1075.6 161.6 L1081.2 159.3 L1086.8 155.1 L1092.4 152.8 L1098.0 150.0 L1103.6 147.6 L1105.1 149.4" fill="none" stroke="#80f8d8" stroke-width="7.0" stroke-linejoin="round" stroke-linecap="round"/>
<path d="M433.3 548.3 L439.0 540.4 L444.7 532.8 L450.4 525.5 L456.2 518.8 L461.9 512.6 L467.6 507.1 L473.3 502.0 L479.1 497.3 L484.8 492.8 L490.5 488.6 L496.2 484.5 L502.0 480.5 L507.7 476.5 L513.4 472.4 L519.1 468.2 L524.9 463.9 L530.6 459.5 L536.3 455.1 L542.0 450.7 L547.7 446.3 L553.5 441.9 L559.2 437.5 L564.9 433.1 L570.6 428.8 L576.4 424.5 L582.1 420.2 L587.8 416.1 L593.5 412.0 L599.3 408.0 L605.0 404.1 L610.7 400.3 L616.4 396.6 L622.2 393.0 L627.9 389.4 L633.6 385.8 L639.3 382.3 L645.1 378.8 L650.8 375.3 L656.5 371.9 L662.2 368.6 L667.9 365.2 L673.7 361.9 L679.4 358.6 L685.1 355.4 L690.8 352.2 L696.6 349.0 L702.3 345.8 L708.0 342.7 L713.7 339.5 L719.5 336.4 L725.2 333.4 L730.9 330.3 L736.6 327.3 L742.4 324.2 L748.1 321.2 L753.8 318.2 L759.5 315.2 L765.2 312.2 L771.0 309.3 L776.7 306.3 L782.4 303.3 L788.1 300.4 L793.9 297.4 L799.6 294.6 L805.3 291.7 L811.0 288.9 L816.8 286.2 L822.5 283.5 L828.2 280.8 L833.9 278.1 L839.7 275.4 L845.4 272.7 L851.1 270.1 L856.8 267.4 L862.6 264.7 L868.3 262.0 L874.0 259.2 L879.7 256.4 L885.4 253.6 L891.2 250.8 L896.9 247.9 L902.6 244.9 L908.3 241.7 L914.1 238.5 L919.8 235.2 L925.5 231.8 L931.2 228.5 L937.0 225.1 L942.7 221.7 L948.4 218.4 L954.1 215.1 L959.9 211.9 L965.6 208.9 L971.3 206.0 L977.0 203.2 L982.7 200.7 L988.5 198.3 L994.2 196.0 L999.9 193.8 L1005.6 191.6 L1011.4 189.6 L1017.1 187.6 L1022.8 185.7 L1028.5 183.8 L1034.3 182.0 L1040.0 180.1 L1045.7 178.3 L1051.4 176.5 L1057.2 174.7 L1062.9 172.8 L1068.6 170.9 L1074.3 169.0 L1080.1 167.0 L1085.8 164.9 L1091.5 162.8 L1097.2 160.5 L1102.9 158.2 L1108.7 155.7 L1114.4 153.1 L1120.1 150.4 L1125.8 147.7 L1131.6 144.8 L1137.3 142.0 L1143.0 139.1 L1148.7 136.1 L1154.5 133.2 L1160.2 130.3 L1165.9 127.5 L1171.6 124.7 L1177.4 122.0 L1183.1 119.4 L1188.8 116.9 L1194.5 114.5 L1200.2 112.2 L1206.0 110.0 L1211.7 107.8 L1217.4 105.7 L1223.1 103.6 L1228.9 101.5 L1234.6 99.5 L1240.3 97.5 L1246.0 95.4 L1251.8 93.4 L1257.5 91.4 L1263.2 89.4 L1268.9 87.3 L1274.7 85.2 L1280.4 83.2 L1286.1 81.1 L1291.8 79.0 L1297.5 76.9 L1303.3 74.8 L1309.0 72.7 L1314.7 70.6 L1320.4 68.5 L1326.2 66.4 L1331.9 64.4 L1337.6 62.3 L1343.3 60.2" fill="none" stroke="#80f8d8" stroke-width="7.0" stroke-linejoin="round" stroke-linecap="round"/>
<path d="M455.3 510.2H473.3M464.3 501.2V519.2" stroke="#80f8d8" stroke-width="5"/><path d="M528.3 454.3H546.3M537.3 445.3V463.3" stroke="#80f8d8" stroke-width="5"/><path d="M628.7 383.2H646.7M637.7 374.2V392.2" stroke="#80f8d8" stroke-width="5"/><path d="M779.0 300.4H797.0M788.0 291.4V309.4" stroke="#80f8d8" stroke-width="5"/><path d="M889.4 247.1H907.4M898.4 238.1V256.1" stroke="#80f8d8" stroke-width="5"/><path d="M972.3 201.3H990.3M981.3 192.3V210.3" stroke="#80f8d8" stroke-width="5"/><path d="M1091.2 159.3H1109.2M1100.2 150.3V168.3" stroke="#80f8d8" stroke-width="5"/><path d="M1184.1 115.1H1202.1M1193.1 106.1V124.1" stroke="#80f8d8" stroke-width="5"/><path d="M1266.8 84.8H1284.8M1275.8 75.8V93.8" stroke="#80f8d8" stroke-width="5"/><path d="M1334.3 60.2H1352.3M1343.3 51.2V69.2" stroke="#80f8d8" stroke-width="5"/>
<path d="M430.5 544.5 L431.1 541.2 L431.6 533.7 L432.1 527.3 L433.6 521.9 L436.2 513.4 L439.6 507.6 L443.9 505.9 L448.9 502.5 L454.2 500.2 L459.4 498.5 L464.0 494.6 L468.1 491.1 L472.1 486.0 L476.0 478.2 L479.9 471.8 L483.9 469.6 L488.0 468.2 L492.4 462.3 L497.1 456.1 L502.2 454.7 L507.5 453.5 L512.8 450.1 L518.2 447.0 L523.6 444.8 L528.9 443.6 L534.1 439.1 L539.3 434.7 L544.5 433.7 L549.7 431.0 L554.8 427.9 L560.0 423.4 L565.1 417.3 L570.1 413.0 L575.1 410.0 L580.0 406.5 L584.9 402.4 L589.7 401.0 L594.5 400.0 L599.3 395.3 L604.1 390.6 L608.9 386.3 L613.8 383.7 L618.8 384.2 L623.8 382.1 L628.8 375.4 L633.8 371.0 L638.9 369.3 L644.0 364.5 L649.1 361.0 L654.2 360.7 L659.3 359.7 L664.4 356.7 L669.6 351.6 L674.8 348.0 L680.0 347.0 L685.2 345.4 L690.4 342.2 L695.6 336.6 L700.9 330.4 L706.2 327.5 L711.5 326.4 L716.8 325.2 L722.2 322.7 L727.5 318.7 L732.9 316.0 L738.3 314.0 L743.7 311.2 L749.1 307.2 L754.5 303.5 L759.9 299.9 L765.3 298.8 L770.7 298.8 L776.0 296.4 L781.4 294.2 L786.8 289.7 L792.2 285.4 L797.5 283.5 L802.9 281.0 L808.3 278.3 L813.6 275.0 L819.0 272.4 L824.4 269.2 L829.8 267.8 L835.1 267.7 L840.5 264.6 L845.9 261.8 L851.2 258.3 L856.6 254.4 L862.0 254.2 L867.3 251.9 L872.7 246.2 L878.0 242.8 L883.4 241.0 L888.7 238.1 L894.0 234.0 L899.4 232.7 L904.7 232.7 L909.9 228.5 L915.2 224.0 L920.5 221.8 L925.8 219.2 L931.0 217.0 L936.3 213.1 L941.6 209.1 L946.9 208.7 L952.2 207.7 L957.5 205.3 L962.9 201.8 L968.3 195.8 L973.7 190.9 L979.1 189.0 L984.6 188.1 L990.1 185.8 L995.6 183.1 L1001.1 180.6 L1006.6 176.7 L1012.1 173.6 L1017.6 172.6 L1023.2 171.0 L1028.7 170.4 L1034.3 169.3 L1039.9 165.6 L1045.5 163.9 L1051.2 162.2 L1056.8 158.8 L1062.5 158.4 L1068.3 158.2 L1074.1 155.5 L1079.9 154.7 L1085.7 153.7 L1091.6 151.9 L1097.5 151.9 L1103.4 150.3 L1105.1 147.9" fill="none" stroke="#9040ff" stroke-width="7.0" stroke-linejoin="round" stroke-linecap="round"/>
<path d="M433.3 536.9 L439.0 529.0 L444.7 521.3 L450.4 514.1 L456.2 507.3 L461.9 501.1 L467.6 495.6 L473.3 490.6 L479.1 485.8 L484.8 481.4 L490.5 477.2 L496.2 473.1 L502.0 469.1 L507.7 465.1 L513.4 461.0 L519.1 456.8 L524.9 452.4 L530.6 448.0 L536.3 443.6 L542.0 439.2 L547.7 434.8 L553.5 430.4 L559.2 425.9 L564.9 421.6 L570.6 417.2 L576.4 412.9 L582.1 408.7 L587.8 404.5 L593.5 400.5 L599.3 396.5 L605.0 392.6 L610.7 388.9 L616.4 385.2 L622.2 381.6 L627.9 378.1 L633.6 374.6 L639.3 371.1 L645.1 367.7 L650.8 364.3 L656.5 361.0 L662.2 357.7 L667.9 354.4 L673.7 351.2 L679.4 348.0 L685.1 344.8 L690.8 341.7 L696.6 338.6 L702.3 335.5 L708.0 332.5 L713.7 329.4 L719.5 326.4 L725.2 323.4 L730.9 320.4 L736.6 317.5 L742.4 314.5 L748.1 311.6 L753.8 308.7 L759.5 305.7 L765.2 302.8 L771.0 299.9 L776.7 297.0 L782.4 294.1 L788.1 291.2 L793.9 288.3 L799.6 285.5 L805.3 282.8 L811.0 280.0 L816.8 277.4 L822.5 274.7 L828.2 272.1 L833.9 269.5 L839.7 266.8 L845.4 264.2 L851.1 261.6 L856.8 259.0 L862.6 256.3 L868.3 253.6 L874.0 250.9 L879.7 248.1 L885.4 245.3 L891.2 242.4 L896.9 239.5 L902.6 236.4 L908.3 233.2 L914.1 229.8 L919.8 226.3 L925.5 222.8 L931.2 219.2 L937.0 215.5 L942.7 211.9 L948.4 208.4 L954.1 204.9 L959.9 201.6 L965.6 198.4 L971.3 195.4 L977.0 192.6 L982.7 190.0 L988.5 187.6 L994.2 185.3 L999.9 183.2 L1005.6 181.1 L1011.4 179.2 L1017.1 177.3 L1022.8 175.5 L1028.5 173.7 L1034.3 172.0 L1040.0 170.2 L1045.7 168.5 L1051.4 166.8 L1057.2 165.1 L1062.9 163.3 L1068.6 161.5 L1074.3 159.7 L1080.1 157.7 L1085.8 155.7 L1091.5 153.6 L1097.2 151.4 L1102.9 149.0 L1108.7 146.5 L1114.4 143.8 L1120.1 141.0 L1125.8 138.1 L1131.6 135.1 L1137.3 132.1 L1143.0 128.9 L1148.7 125.8 L1154.5 122.7 L1160.2 119.6 L1165.9 116.6 L1171.6 113.6 L1177.4 110.8 L1183.1 108.1 L1188.8 105.5 L1194.5 103.1 L1200.2 100.7 L1206.0 98.5 L1211.7 96.3 L1217.4 94.2 L1223.1 92.1 L1228.9 90.0 L1234.6 88.0 L1240.3 86.0 L1246.0 84.0 L1251.8 82.0 L1257.5 80.0 L1263.2 78.0 L1268.9 75.9 L1274.7 73.8 L1280.4 71.7 L1286.1 69.5 L1291.8 67.4 L1297.5 65.3 L1303.3 63.1 L1309.0 61.0 L1314.7 58.8 L1320.4 56.7 L1326.2 54.5 L1331.9 52.3 L1337.6 50.2 L1343.3 48.0" fill="none" stroke="#9040ff" stroke-width="7.0" stroke-linejoin="round" stroke-linecap="round"/>
<path d="M452.9 498.7L470.0 489.2L470.0 508.2Z" fill="#9040ff"/><path d="M525.9 442.8L543.0 433.3L543.0 452.3Z" fill="#9040ff"/><path d="M626.3 372.0L643.4 362.5L643.4 381.5Z" fill="#9040ff"/><path d="M776.6 291.3L793.7 281.8L793.7 300.8Z" fill="#9040ff"/><path d="M887.0 238.7L904.1 229.2L904.1 248.2Z" fill="#9040ff"/><path d="M969.9 190.6L987.0 181.1L987.0 200.1Z" fill="#9040ff"/><path d="M1088.8 150.2L1105.9 140.7L1105.9 159.7Z" fill="#9040ff"/><path d="M1181.7 103.7L1198.8 94.2L1198.8 113.2Z" fill="#9040ff"/><path d="M1264.4 73.4L1281.5 63.9L1281.5 82.9Z" fill="#9040ff"/><path d="M1331.9 48.0L1349.0 38.5L1349.0 57.5Z" fill="#9040ff"/>
<path d="M2258.0 837.5 L2259.9 831.8 L2261.9 826.2 L2263.9 820.5 L2266.0 814.9 L2268.2 809.3 L2270.6 803.8 L2273.1 798.4 L2276.1 793.2 L2279.5 788.2 L2283.2 783.5 L2287.1 779.0 L2291.3 774.7 L2295.7 770.6 L2300.2 766.7 L2304.8 762.8 L2309.4 758.9 L2313.8 754.8 L2318.1 750.6 L2322.3 746.4 L2326.6 742.2 L2330.9 738.0 L2335.1 733.8 L2339.4 729.6 L2343.7 725.4 L2348.0 721.2 L2352.4 717.0 L2356.7 712.9 L2361.1 708.8 L2365.5 704.7 L2369.9 700.6 L2374.3 696.5 L2378.7 692.5 L2383.1 688.4 L2387.6 684.4 L2392.0 680.4 L2396.5 676.4 L2401.0 672.5 L2405.6 668.5 L2410.1 664.6 L2414.7 660.7 L2419.3 656.9 L2423.8 653.0 L2428.4 649.1 L2433.0 645.3 L2437.7 641.5 L2442.4 637.7 L2447.1 634.0 L2451.9 630.4 L2456.7 626.9 L2461.6 623.4 L2466.6 620.1 L2471.7 616.8 L2476.8 613.7 L2481.9 610.6 L2487.1 607.5 L2492.2 604.5 L2497.5 601.5 L2502.7 598.6 L2507.9 595.6 L2513.1 592.6 L2518.3 589.7 L2523.6 586.7 L2528.8 583.8 L2534.0 580.9 L2539.3 578.0 L2544.6 575.1 L2549.8 572.3 L2555.1 569.4 L2560.4 566.6 L2565.7 563.8 L2571.0 561.0 L2576.4 558.3 L2581.7 555.6 L2587.1 552.9 L2592.4 550.2 L2597.8 547.5 L2603.2 544.8 L2608.5 542.1 L2613.9 539.4 L2619.2 536.6 L2624.6 533.9 L2629.9 531.1 L2635.2 528.4 L2640.6 525.7 L2646.0 523.1 L2651.4 520.6 L2656.9 518.2 L2662.4 515.8 L2668.0 513.5 L2673.5 511.3 L2679.1 509.0 L2684.7 506.9 L2690.3 504.7 L2695.9 502.6 L2701.5 500.5 L2707.1 498.3 L2712.7 496.2 L2718.3 494.0 L2723.9 491.8 L2729.5 489.5 L2735.0 487.2 L2740.5 484.9 L2746.0 482.4 L2751.4 479.9 L2756.8 477.3 L2762.2 474.6 L2767.6 471.9 L2772.9 469.2 L2778.3 466.5 L2783.7 463.8 L2789.1 461.3 L2794.5 458.7 L2800.0 456.3 L2805.6 454.0 L2811.1 451.8 L2816.7 449.6 L2822.3 447.5 L2828.0 445.4 L2833.6 443.3 L2839.2 441.3 L2844.9 439.3 L2850.5 437.3 L2856.2 435.3 L2861.9 433.4 L2867.6 431.5 L2873.3 429.6 L2879.0 427.7 L2884.7 425.9 L2890.4 424.1 L2896.1 422.3 L2901.9 420.5 L2907.6 418.7 L2913.3 416.9 L2919.1 415.2 L2924.8 413.5 L2930.6 411.7 L2936.3 410.0 L2942.1 408.3 L2947.8 406.6 L2953.6 404.9 L2959.3 403.2 L2965.1 401.5 L2970.9 399.9 L2976.6 398.2 L2982.4 396.6 L2988.2 395.0 L2994.0 393.4 L2999.7 391.8 L3005.5 390.2 L3011.3 388.6 L3017.1 387.1 L3022.9 385.5 L3028.7 384.0 L3031.7 383.2" fill="none" stroke="#080808" stroke-width="7.0" stroke-linejoin="round" stroke-linecap="round"/>
<path d="M2260.7 755.5 L2265.3 752.0 L2269.9 748.5 L2274.6 745.1 L2279.2 741.9 L2283.8 738.7 L2288.4 735.7 L2293.0 732.7 L2297.7 729.7 L2302.3 726.8 L2306.9 724.0 L2311.5 721.2 L2316.1 718.4 L2320.7 715.8 L2325.4 713.2 L2330.0 710.6 L2334.6 708.1 L2339.2 705.7 L2343.8 703.3 L2348.5 700.9 L2353.1 698.7 L2357.7 696.4 L2362.3 694.2 L2366.9 692.0 L2371.5 689.9 L2376.2 687.8 L2380.8 685.7 L2385.4 683.6 L2390.0 681.6 L2394.6 679.5 L2399.3 677.5 L2403.9 675.5 L2408.5 673.5 L2413.1 671.5 L2417.7 669.4 L2422.3 667.4 L2427.0 665.4 L2431.6 663.4 L2436.2 661.3 L2440.8 659.3 L2445.4 657.4 L2450.1 655.4 L2454.7 653.4 L2459.3 651.5 L2463.9 649.5 L2468.5 647.6 L2473.1 645.7 L2477.8 643.8 L2482.4 641.9 L2487.0 640.0 L2491.6 638.2 L2496.2 636.3 L2500.9 634.5 L2505.5 632.7 L2510.1 630.9 L2514.7 629.2 L2519.3 627.4 L2524.0 625.7 L2528.6 623.9 L2533.2 622.2 L2537.8 620.5 L2542.4 618.9 L2547.0 617.2 L2551.7 615.5 L2556.3 613.9 L2560.9 612.2 L2565.5 610.6 L2570.1 609.0 L2574.8 607.4 L2579.4 605.8 L2584.0 604.2 L2588.6 602.6 L2593.2 601.1 L2597.8 599.5 L2602.5 598.0 L2607.1 596.4 L2611.7 594.8 L2616.3 593.3 L2620.9 591.7 L2625.6 590.2 L2630.2 588.6 L2634.8 587.0 L2639.4 585.5 L2644.0 583.9 L2648.6 582.4 L2653.3 580.8 L2657.9 579.3 L2662.5 577.8 L2667.1 576.2 L2671.7 574.7 L2676.4 573.1 L2681.0 571.6 L2685.6 570.0 L2690.2 568.5 L2694.8 567.0 L2699.4 565.4 L2704.1 563.9 L2708.7 562.3 L2713.3 560.8 L2717.9 559.2 L2722.5 557.7 L2727.2 556.1 L2731.8 554.6 L2736.4 553.0 L2741.0 551.4 L2745.6 549.9 L2750.3 548.3 L2754.9 546.7 L2759.5 545.0 L2764.1 543.4 L2768.7 541.7 L2773.3 540.1 L2778.0 538.5 L2782.6 536.9 L2787.2 535.4 L2791.8 533.8 L2796.4 532.4 L2801.1 530.9 L2805.7 529.6 L2810.3 528.2 L2814.9 526.9 L2819.5 525.6 L2824.1 524.4 L2828.8 523.1 L2833.4 521.9 L2838.0 520.6 L2842.6 519.4 L2847.2 518.1 L2851.9 516.8 L2856.5 515.5 L2861.1 514.2 L2865.7 512.8 L2870.3 511.5 L2874.9 510.1 L2879.6 508.7 L2884.2 507.3 L2888.8 505.9 L2893.4 504.5 L2898.0 503.1 L2902.7 501.7 L2907.3 500.3 L2911.9 498.8 L2916.5 497.4 L2921.1 496.0 L2925.7 494.6 L2930.4 493.3 L2935.0 491.9 L2939.6 490.5 L2944.2 489.2 L2948.8 487.9 L2953.5 486.6 L2958.1 485.3 L2962.7 484.0 L2967.3 482.8 L2971.9 481.6 L2976.6 480.4 L2981.2 479.2 L2985.8 478.0 L2990.4 476.8 L2995.0 475.6" fill="none" stroke="#080808" stroke-width="7.0" stroke-linejoin="round" stroke-linecap="round"/>
<rect x="2277.9" y="731.3" width="15.0" height="12.8" fill="#080808"/><rect x="2330.8" y="699.8" width="15.0" height="12.8" fill="#080808"/><rect x="2412.5" y="662.0" width="15.0" height="12.8" fill="#080808"/><rect x="2501.5" y="625.0" width="15.0" height="12.8" fill="#080808"/><rect x="2553.8" y="605.7" width="15.0" height="12.8" fill="#080808"/><rect x="2606.0" y="587.8" width="15.0" height="12.8" fill="#080808"/><rect x="2653.2" y="572.0" width="15.0" height="12.8" fill="#080808"/><rect x="2740.5" y="542.7" width="15.0" height="12.8" fill="#080808"/><rect x="2801.0" y="522.4" width="15.0" height="12.8" fill="#080808"/><rect x="2850.1" y="508.8" width="15.0" height="12.8" fill="#080808"/><rect x="2951.3" y="478.7" width="15.0" height="12.8" fill="#080808"/><rect x="2986.3" y="469.6" width="15.0" height="12.8" fill="#080808"/>
<path d="M2258.0 841.1 L2259.9 835.5 L2261.9 829.8 L2263.9 824.1 L2266.0 818.5 L2268.2 812.9 L2270.6 807.4 L2273.1 802.0 L2276.1 796.8 L2279.5 791.8 L2283.2 787.1 L2287.1 782.6 L2291.3 778.3 L2295.7 774.2 L2300.2 770.3 L2304.8 766.4 L2309.4 762.5 L2313.8 758.4 L2318.1 754.2 L2322.3 750.0 L2326.6 745.8 L2330.9 741.6 L2335.1 737.4 L2339.4 733.2 L2343.7 729.0 L2348.0 724.8 L2352.4 720.7 L2356.7 716.5 L2361.1 712.4 L2365.5 708.3 L2369.9 704.2 L2374.3 700.1 L2378.7 696.1 L2383.1 692.0 L2387.6 688.0 L2392.0 684.0 L2396.5 680.0 L2401.0 676.1 L2405.6 672.1 L2410.1 668.3 L2414.7 664.4 L2419.3 660.5 L2423.9 656.6 L2428.4 652.7 L2433.1 648.9 L2437.7 645.1 L2442.4 641.4 L2447.1 637.7 L2451.9 634.0 L2456.7 630.5 L2461.6 627.0 L2466.6 623.6 L2471.6 620.3 L2476.7 617.1 L2481.7 613.9 L2486.9 610.8 L2492.0 607.7 L2497.2 604.7 L2502.4 601.6 L2507.5 598.6 L2512.7 595.6 L2517.9 592.5 L2523.1 589.5 L2528.3 586.5 L2533.5 583.5 L2538.7 580.5 L2543.9 577.6 L2549.1 574.7 L2554.4 571.8 L2559.7 568.9 L2564.9 566.0 L2570.2 563.2 L2575.6 560.5 L2580.9 557.7 L2586.2 555.0 L2591.6 552.3 L2597.0 549.6 L2602.3 546.9 L2607.7 544.3 L2613.1 541.6 L2618.5 539.0 L2623.9 536.3 L2629.2 533.7 L2634.6 531.1 L2640.1 528.5 L2645.5 526.0 L2651.0 523.5 L2656.5 521.1 L2662.0 518.8 L2667.6 516.5 L2673.1 514.2 L2678.7 512.0 L2684.3 509.8 L2689.9 507.7 L2695.5 505.5 L2701.1 503.4 L2706.7 501.2 L2712.3 499.0 L2717.9 496.9 L2723.4 494.6 L2729.0 492.4 L2734.5 490.1 L2740.1 487.8 L2745.6 485.4 L2751.0 482.9 L2756.5 480.3 L2761.9 477.7 L2767.3 475.1 L2772.7 472.5 L2778.1 469.9 L2783.5 467.3 L2788.9 464.8 L2794.4 462.4 L2799.9 460.0 L2805.5 457.7 L2811.1 455.5 L2816.6 453.3 L2822.2 451.1 L2827.9 449.0 L2833.5 447.0 L2839.1 444.9 L2844.8 442.9 L2850.4 440.9 L2856.1 439.0 L2861.8 437.0 L2867.5 435.1 L2873.2 433.3 L2878.9 431.4 L2884.6 429.6 L2890.3 427.8 L2896.1 426.0 L2901.8 424.2 L2907.5 422.4 L2913.2 420.6 L2919.0 418.8 L2924.7 417.0 L2930.4 415.2 L2936.1 413.4 L2941.9 411.6 L2947.6 409.9 L2953.3 408.1 L2959.1 406.3 L2964.8 404.6 L2970.5 402.8 L2976.3 401.0 L2982.0 399.3 L2987.8 397.6 L2993.5 395.8 L2999.3 394.1 L2999.5 394.0" fill="none" stroke="#ff1414" stroke-width="7.0" stroke-linejoin="round" stroke-linecap="round"/>
<path d="M2260.7 719.0 L2265.3 714.5 L2269.9 710.2 L2274.5 706.0 L2279.1 702.0 L2283.8 698.2 L2288.4 694.7 L2293.0 691.4 L2297.6 688.1 L2302.2 685.0 L2306.8 681.9 L2311.4 678.9 L2316.0 676.0 L2320.6 673.2 L2325.2 670.4 L2329.8 667.7 L2334.4 665.0 L2339.1 662.4 L2343.7 659.8 L2348.3 657.2 L2352.9 654.7 L2357.5 652.3 L2362.1 649.9 L2366.7 647.5 L2371.3 645.2 L2375.9 642.9 L2380.5 640.6 L2385.1 638.3 L2389.8 636.1 L2394.4 633.8 L2399.0 631.6 L2403.6 629.3 L2408.2 627.1 L2412.8 624.9 L2417.4 622.6 L2422.0 620.4 L2426.6 618.2 L2431.2 616.1 L2435.8 613.9 L2440.5 611.7 L2445.1 609.6 L2449.7 607.5 L2454.3 605.3 L2458.9 603.2 L2463.5 601.1 L2468.1 599.0 L2472.7 596.9 L2477.3 594.9 L2481.9 592.8 L2486.5 590.8 L2491.2 588.7 L2495.8 586.7 L2500.4 584.7 L2505.0 582.7 L2509.6 580.7 L2514.2 578.7 L2518.8 576.8 L2523.4 574.8 L2528.0 572.9 L2532.6 571.0 L2537.2 569.1 L2541.9 567.2 L2546.5 565.3 L2551.1 563.4 L2555.7 561.5 L2560.3 559.5 L2564.9 557.6 L2569.5 555.7 L2574.1 553.8 L2578.7 551.8 L2583.3 549.9 L2587.9 547.9 L2592.6 546.0 L2597.2 544.1 L2601.8 542.2 L2606.4 540.3 L2611.0 538.5 L2615.6 536.6 L2620.2 534.8 L2624.8 533.0 L2629.4 531.2 L2634.0 529.4 L2638.6 527.6 L2643.3 525.9 L2647.9 524.1 L2652.5 522.3 L2657.1 520.6 L2661.7 518.8 L2666.3 517.1 L2670.9 515.4 L2675.5 513.6 L2680.1 511.9 L2684.7 510.2 L2689.3 508.5 L2694.0 506.8 L2698.6 505.2 L2703.2 503.5 L2707.8 501.8 L2712.4 500.1 L2717.0 498.5 L2721.6 496.8 L2726.2 495.2 L2730.8 493.6 L2735.4 491.9 L2740.0 490.3 L2744.7 488.7 L2749.3 487.1 L2753.9 485.5 L2758.5 483.9 L2763.1 482.3 L2767.7 480.7 L2772.3 479.2 L2776.9 477.6 L2781.5 476.1 L2786.1 474.5 L2790.7 473.0 L2795.4 471.4 L2800.0 469.9 L2804.6 468.4 L2809.2 466.9 L2813.8 465.4 L2818.4 463.9 L2823.0 462.4 L2827.6 460.9 L2832.2 459.4 L2836.8 457.9 L2841.4 456.4 L2846.1 454.9 L2850.7 453.5 L2855.3 452.0 L2859.9 450.5 L2864.5 449.0 L2869.1 447.6 L2873.7 446.2 L2878.3 444.8 L2882.9 443.3 L2887.5 441.9 L2892.1 440.5 L2896.8 439.1 L2901.4 437.7 L2906.0 436.4 L2910.6 435.0 L2915.2 433.6 L2919.8 432.2 L2924.4 430.8 L2929.0 429.4 L2933.6 427.9 L2938.2 426.5 L2942.8 425.1 L2947.5 423.6 L2952.1 422.1 L2956.7 420.7 L2961.3 419.2 L2965.9 417.7 L2970.5 416.1 L2975.1 414.6 L2979.7 413.1 L2984.3 411.6 L2988.9 410.0 L2993.5 408.5" fill="none" stroke="#ff1414" stroke-width="7.0" stroke-linejoin="round" stroke-linecap="round"/>
<circle cx="2284.3" cy="697.8" r="8.0" fill="#ff1414"/><circle cx="2337.0" cy="663.6" r="8.0" fill="#ff1414"/><circle cx="2405.5" cy="628.4" r="8.0" fill="#ff1414"/><circle cx="2500.3" cy="584.7" r="8.0" fill="#ff1414"/><circle cx="2563.8" cy="558.1" r="8.0" fill="#ff1414"/><circle cx="2613.7" cy="537.4" r="8.0" fill="#ff1414"/><circle cx="2656.7" cy="520.7" r="8.0" fill="#ff1414"/><circle cx="2717.7" cy="498.3" r="8.0" fill="#ff1414"/><circle cx="2761.3" cy="482.9" r="8.0" fill="#ff1414"/><circle cx="2804.9" cy="468.3" r="8.0" fill="#ff1414"/><circle cx="2858.9" cy="450.8" r="8.0" fill="#ff1414"/><circle cx="2949.7" cy="422.9" r="8.0" fill="#ff1414"/><circle cx="2993.5" cy="408.5" r="8.0" fill="#ff1414"/>
<path d="M2266.0 677.1 L2266.0 671.6 L2266.1 665.3 L2266.1 659.5 L2266.2 654.4 L2266.2 647.6 L2266.3 640.0 L2266.3 635.1 L2266.4 631.1 L2266.4 625.1 L2266.5 617.3 L2266.6 610.2 L2266.7 605.2 L2266.8 600.0 L2267.5 593.3 L2268.5 588.7 L2269.8 583.0 L2272.0 575.1 L2275.4 569.8 L2278.2 566.1 L2281.0 562.5 L2284.1 558.5 L2287.4 552.5 L2291.0 544.8 L2294.9 539.1 L2299.2 536.0 L2303.9 533.3 L2308.9 529.4 L2314.0 525.4 L2319.2 524.0 L2324.2 522.9 L2329.1 520.0 L2333.6 516.1 L2338.0 512.0 L2342.2 506.0 L2346.3 499.9 L2350.4 495.8 L2354.5 490.7 L2358.6 485.5 L2362.8 482.9 L2367.1 480.3 L2371.6 475.4 L2376.2 469.8 L2380.9 466.7 L2385.6 465.0 L2390.2 460.6 L2394.9 454.1 L2399.5 449.6 L2404.1 446.1 L2408.7 442.6 L2413.3 439.1 L2417.8 435.3 L2422.4 432.8 L2427.0 430.9 L2431.5 425.9 L2436.1 419.0 L2440.6 414.4 L2445.1 412.0 L2446.8 411.2" fill="none" stroke="#5ee000" stroke-width="7.0" stroke-linejoin="round" stroke-linecap="round"/>
<path d="M2266.0 597.8 L2271.9 584.2 L2277.8 571.0 L2283.7 558.7 L2289.7 547.6 L2295.6 538.1 L2301.5 530.6 L2307.4 524.0 L2313.3 518.0 L2319.3 512.6 L2325.2 507.6 L2331.1 502.9 L2337.0 498.5 L2343.0 494.3 L2348.9 490.1 L2354.8 485.8 L2360.7 481.4 L2366.6 476.8 L2372.6 471.9 L2378.5 466.8 L2384.4 461.6 L2390.3 456.4 L2396.2 451.2 L2402.2 445.9 L2408.1 440.8 L2414.0 435.7 L2419.9 430.8 L2425.9 426.0 L2431.8 421.5 L2437.7 417.2 L2443.6 413.2 L2449.5 409.5 L2455.5 406.0 L2461.4 402.6 L2467.3 399.4 L2473.2 396.2 L2479.1 393.2 L2485.1 390.2 L2491.0 387.4 L2496.9 384.6 L2502.8 381.9 L2508.8 379.2 L2514.7 376.6 L2520.6 374.0 L2526.5 371.4 L2532.4 368.8 L2538.4 366.3 L2544.3 363.7 L2550.2 361.1 L2556.1 358.6 L2562.0 355.9 L2568.0 353.2 L2573.9 350.5 L2579.8 347.8 L2585.7 345.2 L2591.7 342.5 L2597.6 339.9 L2603.5 337.3 L2609.4 334.6 L2615.3 332.0 L2621.3 329.4 L2627.2 326.7 L2633.1 324.1 L2639.0 321.4 L2644.9 318.6 L2650.9 315.9 L2656.8 313.0 L2662.7 310.2 L2668.6 307.3 L2674.6 304.4 L2680.5 301.5 L2686.4 298.5 L2692.3 295.7 L2698.2 292.8 L2704.2 290.0 L2710.1 287.3 L2716.0 284.6 L2721.9 282.0 L2727.8 279.4 L2733.8 276.8 L2739.7 274.3 L2745.6 271.9 L2751.5 269.4 L2757.5 267.0 L2763.4 264.6 L2769.3 262.2 L2775.2 259.9 L2781.1 257.5 L2787.1 255.2 L2793.0 252.9 L2798.9 250.5 L2804.8 248.2 L2810.7 245.9 L2816.7 243.7 L2822.6 241.5 L2828.5 239.3 L2834.4 237.0 L2840.4 234.8 L2846.3 232.5 L2852.2 230.2 L2858.1 227.8 L2864.0 225.3 L2870.0 222.7 L2875.9 220.2 L2881.8 217.7 L2887.7 215.2 L2893.6 212.7 L2899.6 210.3 L2905.5 207.9 L2911.4 205.6 L2917.3 203.2 L2923.3 200.8 L2929.2 198.5 L2935.1 196.2 L2941.0 193.8 L2946.9 191.5 L2952.9 189.2 L2958.8 187.0 L2964.7 184.7 L2970.6 182.5 L2976.5 180.2 L2982.5 178.0 L2988.4 175.9 L2994.3 173.7 L3000.2 171.6 L3006.2 169.5 L3012.1 167.4 L3018.0 165.4 L3023.9 163.3 L3029.8 161.2 L3035.8 159.0 L3041.7 156.9 L3047.6 154.7 L3053.5 152.4 L3059.4 150.1 L3065.4 147.8 L3071.3 145.5 L3077.2 143.1 L3083.1 140.7 L3089.1 138.3 L3095.0 135.9 L3100.9 133.5 L3106.8 131.1 L3112.7 128.7 L3118.7 126.4 L3124.6 124.2 L3130.5 122.0 L3136.4 119.8 L3142.3 117.7 L3148.3 115.7 L3154.2 113.8 L3160.1 111.9 L3166.0 110.1 L3172.0 108.3 L3177.9 106.5 L3183.8 104.8 L3189.7 103.2 L3195.6 101.5 L3201.6 99.9 L3207.5 98.4" fill="none" stroke="#5ee000" stroke-width="7.0" stroke-linejoin="round" stroke-linecap="round"/>
<path d="M2298.9 522.4L2308.4 539.5L2289.4 539.5Z" fill="#5ee000"/><path d="M2446.4 400.0L2455.9 417.1L2436.9 417.1Z" fill="#5ee000"/><path d="M2571.4 340.3L2580.9 357.4L2561.9 357.4Z" fill="#5ee000"/><path d="M2643.7 307.8L2653.2 324.9L2634.2 324.9Z" fill="#5ee000"/><path d="M2719.1 271.8L2728.6 288.9L2709.6 288.9Z" fill="#5ee000"/><path d="M2807.7 235.7L2817.2 252.8L2798.2 252.8Z" fill="#5ee000"/><path d="M2891.1 202.4L2900.6 219.5L2881.6 219.5Z" fill="#5ee000"/><path d="M2976.1 169.0L2985.6 186.1L2966.6 186.1Z" fill="#5ee000"/><path d="M3046.2 143.8L3055.7 160.9L3036.7 160.9Z" fill="#5ee000"/><path d="M3148.9 104.1L3158.4 121.2L3139.4 121.2Z" fill="#5ee000"/><path d="M3207.5 87.0L3217.0 104.1L3198.0 104.1Z" fill="#5ee000"/>
<path d="M2259.9 646.4 L2259.9 638.9 L2260.0 632.7 L2260.1 627.7 L2260.1 623.7 L2260.2 617.8 L2260.3 610.9 L2260.4 605.1 L2260.4 599.0 L2260.5 592.3 L2260.6 585.9 L2260.6 581.1 L2260.7 576.9 L2260.8 571.2 L2260.9 563.6 L2260.9 555.6 L2261.0 549.4 L2261.4 543.1 L2262.2 536.4 L2263.3 530.5 L2265.0 524.4 L2267.8 520.3 L2271.2 517.7 L2275.3 514.0 L2280.0 508.9 L2285.0 503.3 L2290.3 499.2 L2295.7 496.4 L2301.2 494.0 L2306.7 493.5 L2312.1 494.4 L2317.5 491.8 L2322.7 485.9 L2327.6 482.8 L2332.1 480.9 L2335.8 475.7 L2339.3 469.4 L2343.0 464.2 L2347.1 460.0 L2352.2 457.9 L2357.6 456.2 L2363.2 454.0 L2368.8 451.3 L2374.5 448.1 L2380.2 447.6 L2386.0 446.8 L2391.7 442.9 L2397.2 440.6 L2402.4 438.3 L2407.3 435.1 L2411.8 432.2 L2416.2 427.4 L2420.4 423.0 L2424.6 418.6 L2428.8 413.3 L2433.0 409.2 L2437.4 404.3 L2441.9 400.1 L2446.7 397.4 L2451.7 393.4 L2456.8 389.0 L2462.0 386.4 L2467.3 385.4 L2472.6 385.0 L2477.9 382.7 L2483.3 379.3 L2488.7 377.2 L2494.0 374.0 L2499.3 368.6 L2504.6 364.6 L2509.8 362.5 L2514.9 358.5 L2519.9 355.4 L2524.9 355.3 L2529.8 352.8 L2534.6 347.7 L2539.5 343.7 L2544.3 341.0 L2549.0 337.6 L2553.8 332.8 L2558.5 328.0 L2563.3 323.1 L2568.0 319.3 L2572.7 316.2 L2577.5 311.5 L2582.2 307.2 L2587.0 305.3 L2591.8 303.0 L2596.7 299.5 L2601.6 297.1 L2606.5 294.1 L2611.5 290.8 L2616.6 286.8 L2621.7 281.0 L2626.8 278.1 L2631.9 278.1 L2637.1 274.8 L2642.2 269.8 L2647.4 266.4 L2652.6 262.0 L2657.8 258.0 L2663.0 255.5 L2668.3 253.4 L2673.5 252.3 L2678.7 250.7 L2684.0 246.3 L2689.2 241.5 L2694.5 238.1 L2699.8 234.5 L2705.1 232.0 L2710.4 231.0 L2715.7 228.9 L2721.0 225.5 L2726.4 222.2 L2731.7 219.7 L2732.2 221.0" fill="none" stroke="#0a32e0" stroke-width="7.0" stroke-linejoin="round" stroke-linecap="round"/>
<path d="M2259.9 538.7 L2265.8 533.4 L2271.8 528.2 L2277.7 523.0 L2283.7 517.8 L2289.7 512.8 L2295.6 507.8 L2301.6 502.8 L2307.5 498.0 L2313.5 493.2 L2319.5 488.4 L2325.4 483.8 L2331.4 479.2 L2337.3 474.7 L2343.3 470.3 L2349.3 466.0 L2355.2 461.7 L2361.2 457.5 L2367.1 453.4 L2373.1 449.4 L2379.1 445.4 L2385.0 441.5 L2391.0 437.6 L2396.9 433.7 L2402.9 430.0 L2408.9 426.2 L2414.8 422.5 L2420.8 418.8 L2426.7 415.2 L2432.7 411.6 L2438.7 408.0 L2444.6 404.4 L2450.6 400.8 L2456.5 397.2 L2462.5 393.7 L2468.5 390.2 L2474.4 386.6 L2480.4 383.1 L2486.3 379.6 L2492.3 376.2 L2498.3 372.8 L2504.2 369.4 L2510.2 366.0 L2516.1 362.7 L2522.1 359.4 L2528.1 356.1 L2534.0 352.9 L2540.0 349.7 L2545.9 346.6 L2551.9 343.6 L2557.9 340.6 L2563.8 337.6 L2569.8 334.7 L2575.7 331.9 L2581.7 329.2 L2587.7 326.5 L2593.6 323.9 L2599.6 321.3 L2605.5 318.8 L2611.5 316.4 L2617.5 313.9 L2623.4 311.5 L2629.4 309.0 L2635.3 306.6 L2641.3 304.1 L2647.3 301.6 L2653.2 299.0 L2659.2 296.4 L2665.1 293.8 L2671.1 291.1 L2677.1 288.3 L2683.0 285.4 L2689.0 282.5 L2694.9 279.6 L2700.9 276.7 L2706.9 273.7 L2712.8 270.8 L2718.8 267.9 L2724.7 265.0 L2730.7 262.2 L2736.7 259.5 L2742.6 256.8 L2748.6 254.2 L2754.5 251.7 L2760.5 249.3 L2766.5 246.8 L2772.4 244.4 L2778.4 242.0 L2784.3 239.6 L2790.3 237.2 L2796.2 234.8 L2802.2 232.2 L2808.2 229.7 L2814.1 227.0 L2820.1 224.4 L2826.0 221.7 L2832.0 219.0 L2838.0 216.4 L2843.9 213.8 L2849.9 211.3 L2855.8 208.9 L2861.8 206.5 L2867.8 204.1 L2873.7 201.8 L2879.7 199.5 L2885.6 197.2 L2891.6 194.8 L2897.6 192.5 L2903.5 190.1 L2909.5 187.7 L2915.4 185.4 L2921.4 183.0 L2927.4 180.6 L2933.3 178.3 L2939.3 175.9 L2945.2 173.5 L2951.2 171.1 L2957.2 168.7 L2963.1 166.4 L2969.1 164.0 L2975.0 161.6 L2981.0 159.2 L2987.0 156.8 L2992.9 154.5 L2998.9 152.1 L3004.8 149.7 L3010.8 147.3 L3016.8 144.9 L3022.7 142.4 L3028.7 140.0 L3034.6 137.6 L3040.6 135.2 L3046.6 132.8 L3052.5 130.5 L3058.5 128.2 L3064.4 126.0 L3070.4 123.8 L3076.4 121.7 L3082.3 119.5 L3088.3 117.5 L3094.2 115.4 L3100.2 113.4 L3106.2 111.3 L3112.1 109.3 L3118.1 107.3 L3124.0 105.3 L3130.0 103.3 L3136.0 101.3 L3141.9 99.3 L3147.9 97.3 L3153.8 95.3 L3159.8 93.3 L3165.8 91.3 L3171.7 89.3 L3177.7 87.4 L3183.6 85.4 L3189.6 83.5 L3195.6 81.5 L3201.5 79.6 L3207.5 77.7" fill="none" stroke="#0a32e0" stroke-width="7.0" stroke-linejoin="round" stroke-linecap="round"/>
<path d="M2348.4 478.0L2357.9 460.9L2338.9 460.9Z" fill="#0a32e0"/><path d="M2446.4 414.7L2455.9 397.6L2436.9 397.6Z" fill="#0a32e0"/><path d="M2568.2 346.9L2577.7 329.8L2558.7 329.8Z" fill="#0a32e0"/><path d="M2666.6 304.5L2676.1 287.4L2657.1 287.4Z" fill="#0a32e0"/><path d="M2742.1 268.4L2751.6 251.3L2732.6 251.3Z" fill="#0a32e0"/><path d="M2801.1 244.1L2810.6 227.0L2791.6 227.0Z" fill="#0a32e0"/><path d="M2888.2 207.6L2897.7 190.5L2878.7 190.5Z" fill="#0a32e0"/><path d="M3002.4 162.1L3011.9 145.0L2992.9 145.0Z" fill="#0a32e0"/><path d="M3061.0 138.6L3070.5 121.5L3051.5 121.5Z" fill="#0a32e0"/><path d="M3128.4 115.2L3137.9 98.1L3118.9 98.1Z" fill="#0a32e0"/><path d="M3207.5 89.1L3217.0 72.0L3198.0 72.0Z" fill="#0a32e0"/>
<path d="M2259.9 574.3 L2260.0 566.7 L2260.2 561.1 L2260.4 554.7 L2260.5 548.2 L2260.7 543.0 L2260.9 538.3 L2261.0 532.9 L2261.2 527.5 L2261.4 520.2 L2261.5 513.2 L2261.7 508.9 L2262.1 504.5 L2262.6 497.6 L2263.0 490.3 L2263.4 485.5 L2266.3 481.0 L2271.2 475.7 L2275.6 471.6 L2280.1 467.8 L2284.7 464.0 L2289.3 461.5 L2293.9 458.6 L2298.6 454.3 L2303.2 449.3 L2307.8 444.3 L2312.4 439.4 L2316.9 436.1 L2321.3 434.4 L2325.5 430.3 L2329.6 422.9 L2333.4 416.4 L2337.3 412.3 L2341.2 410.0 L2345.2 406.6 L2349.5 401.4 L2354.3 397.7 L2359.3 395.8 L2364.6 392.9 L2370.0 387.9 L2375.4 384.4 L2380.9 383.3 L2386.4 381.1 L2391.7 378.9 L2397.0 377.6 L2402.2 374.0 L2407.4 369.3 L2412.5 367.3 L2417.6 366.3 L2422.6 362.2 L2427.6 357.1 L2432.6 353.7 L2437.6 350.1 L2442.5 347.6 L2447.3 345.6 L2452.1 342.6 L2456.8 337.1 L2461.5 331.7 L2466.2 328.4 L2470.9 325.4 L2475.8 321.8 L2480.8 317.0 L2485.9 314.1 L2491.0 312.0 L2496.3 308.7 L2501.6 306.9 L2506.9 305.4 L2512.2 303.2 L2517.6 300.2 L2522.9 295.3 L2528.2 290.8 L2533.5 288.1 L2538.7 285.2 L2543.9 282.4 L2549.0 279.9 L2554.0 275.3 L2558.9 272.3 L2563.8 272.0 L2568.6 268.6 L2573.4 262.7 L2578.2 259.3 L2583.0 257.4 L2587.8 253.3 L2592.7 248.3 L2597.6 245.7 L2602.6 242.6 L2607.6 238.8 L2612.8 237.1 L2618.0 233.7 L2623.2 229.6 L2628.5 226.9 L2633.8 223.1 L2639.1 220.5 L2644.4 218.5 L2649.8 216.1 L2655.2 215.1 L2660.7 212.1 L2666.2 207.1 L2671.8 203.6 L2677.4 202.1 L2683.0 201.2 L2688.7 199.5 L2694.5 198.9 L2700.2 199.2 L2706.0 196.9 L2711.8 192.8 L2717.6 190.7 L2723.4 189.8 L2729.1 188.2 L2734.9 186.7 L2740.6 185.6 L2746.2 184.0 L2751.9 180.8 L2757.5 178.0 L2763.1 175.6 L2768.6 173.5 L2774.2 172.1 L2779.7 170.9 L2785.2 170.0 L2790.8 167.2 L2796.3 162.4 L2801.9 160.1 L2807.5 159.6 L2813.1 156.5 L2818.6 152.9 L2824.2 151.6 L2829.8 150.5 L2835.4 149.3 L2841.0 148.2 L2846.7 146.4 L2852.4 144.4 L2858.1 141.6 L2863.7 137.6 L2869.4 134.0 L2875.0 132.6 L2880.7 131.9 L2886.4 129.6 L2892.1 128.0 L2897.9 127.6 L2903.8 126.6 L2909.7 124.0 L2915.6 121.9 L2921.6 121.3 L2927.6 120.5 L2933.6 121.2 L2939.6 121.5 L2945.6 121.5 L2951.6 122.9 L2957.6 122.2 L2963.6 121.2 L2969.6 121.4 L2975.6 119.9 L2981.6 120.4 L2987.6 121.8 L2987.9 120.9" fill="none" stroke="#80f8d8" stroke-width="7.0" stroke-linejoin="round" stroke-linecap="round"/>
<path d="M2259.9 520.2 L2265.8 515.0 L2271.8 509.7 L2277.7 504.6 L2283.7 499.5 L2289.7 494.4 L2295.6 489.4 L2301.6 484.5 L2307.5 479.7 L2313.5 474.9 L2319.5 470.2 L2325.4 465.5 L2331.4 461.0 L2337.3 456.5 L2343.3 452.0 L2349.3 447.7 L2355.2 443.4 L2361.2 439.2 L2367.1 435.0 L2373.1 431.0 L2379.1 426.9 L2385.0 423.0 L2391.0 419.0 L2396.9 415.2 L2402.9 411.4 L2408.9 407.6 L2414.8 403.9 L2420.8 400.3 L2426.7 396.7 L2432.7 393.2 L2438.7 389.7 L2444.6 386.3 L2450.6 382.9 L2456.5 379.6 L2462.5 376.4 L2468.5 373.2 L2474.4 370.1 L2480.4 367.0 L2486.3 363.9 L2492.3 360.9 L2498.3 358.0 L2504.2 355.0 L2510.2 352.1 L2516.1 349.2 L2522.1 346.3 L2528.1 343.4 L2534.0 340.5 L2540.0 337.6 L2545.9 334.7 L2551.9 331.8 L2557.9 328.9 L2563.8 325.9 L2569.8 323.0 L2575.7 320.0 L2581.7 316.9 L2587.7 313.9 L2593.6 310.9 L2599.6 307.8 L2605.5 304.8 L2611.5 301.7 L2617.5 298.7 L2623.4 295.6 L2629.4 292.6 L2635.3 289.5 L2641.3 286.5 L2647.3 283.5 L2653.2 280.5 L2659.2 277.5 L2665.1 274.5 L2671.1 271.6 L2677.1 268.7 L2683.0 265.8 L2689.0 262.9 L2694.9 260.1 L2700.9 257.3 L2706.9 254.5 L2712.8 251.8 L2718.8 249.1 L2724.7 246.4 L2730.7 243.8 L2736.7 241.2 L2742.6 238.6 L2748.6 236.0 L2754.5 233.5 L2760.5 231.0 L2766.5 228.5 L2772.4 226.0 L2778.4 223.6 L2784.3 221.1 L2790.3 218.7 L2796.2 216.4 L2802.2 214.0 L2808.2 211.7 L2814.1 209.4 L2820.1 207.2 L2826.0 204.9 L2832.0 202.7 L2838.0 200.5 L2843.9 198.2 L2849.9 196.0 L2855.8 193.7 L2861.8 191.4 L2867.8 189.1 L2873.7 186.9 L2879.7 184.6 L2885.6 182.3 L2891.6 180.0 L2897.6 177.7 L2903.5 175.3 L2909.5 173.0 L2915.4 170.6 L2921.4 168.3 L2927.4 165.9 L2933.3 163.6 L2939.3 161.2 L2945.2 158.8 L2951.2 156.4 L2957.2 154.1 L2963.1 151.7 L2969.1 149.3 L2975.0 146.9 L2981.0 144.4 L2987.0 142.0 L2992.9 139.6 L2998.9 137.1 L3004.8 134.6 L3010.8 132.1 L3016.8 129.6 L3022.7 127.0 L3028.7 124.5 L3034.6 122.0 L3040.6 119.5 L3046.6 117.0 L3052.5 114.6 L3058.5 112.2 L3064.4 109.9 L3070.4 107.7 L3076.4 105.5 L3082.3 103.4 L3088.3 101.3 L3094.2 99.2 L3100.2 97.2 L3106.2 95.2 L3112.1 93.2 L3118.1 91.2 L3124.0 89.2 L3130.0 87.2 L3136.0 85.2 L3141.9 83.2 L3147.9 81.1 L3153.8 78.9 L3159.8 76.7 L3165.8 74.5 L3171.7 72.2 L3177.7 69.8 L3183.6 67.2 L3189.6 64.6 L3195.6 61.8 L3201.5 58.9 L3207.5 56.0" fill="none" stroke="#80f8d8" stroke-width="7.0" stroke-linejoin="round" stroke-linecap="round"/>
<path d="M2345.9 443.6H2363.9M2354.9 434.6V452.6" stroke="#80f8d8" stroke-width="5"/><path d="M2437.8 385.0H2455.8M2446.8 376.0V394.0" stroke="#80f8d8" stroke-width="5"/><path d="M2559.2 323.7H2577.2M2568.2 314.7V332.7" stroke="#80f8d8" stroke-width="5"/><path d="M2700.2 253.4H2718.2M2709.2 244.4V262.4" stroke="#80f8d8" stroke-width="5"/><path d="M2782.4 218.3H2800.4M2791.4 209.3V227.3" stroke="#80f8d8" stroke-width="5"/><path d="M2879.2 181.3H2897.2M2888.2 172.3V190.3" stroke="#80f8d8" stroke-width="5"/><path d="M2978.9 141.7H2996.9M2987.9 132.7V150.7" stroke="#80f8d8" stroke-width="5"/><path d="M3054.9 110.1H3072.9M3063.9 101.1V119.1" stroke="#80f8d8" stroke-width="5"/><path d="M3169.2 69.6H3187.2M3178.2 60.6V78.6" stroke="#80f8d8" stroke-width="5"/><path d="M3198.5 56.0H3216.5M3207.5 47.0V65.0" stroke="#80f8d8" stroke-width="5"/>
<path d="M2259.9 601.4 L2260.0 594.2 L2260.1 589.0 L2260.2 583.5 L2260.3 576.2 L2260.4 570.2 L2260.5 565.4 L2260.6 559.1 L2260.7 552.0 L2260.8 547.3 L2260.9 542.8 L2261.0 536.2 L2261.1 529.6 L2261.2 522.7 L2261.3 516.7 L2261.4 511.6 L2261.5 506.2 L2261.6 501.0 L2261.9 495.4 L2262.2 489.4 L2262.5 483.8 L2262.8 477.2 L2263.1 470.1 L2263.4 464.4 L2263.9 457.7 L2264.3 449.9 L2264.7 444.2 L2265.2 440.2 L2265.8 433.7 L2266.5 426.3 L2267.2 420.2 L2268.4 413.9 L2270.8 409.1 L2275.9 408.0 L2280.8 411.0 L2284.4 413.7 L2288.2 418.0 L2293.4 422.8 L2298.9 422.5 L2303.5 418.2 L2307.6 412.5 L2311.7 408.4 L2316.0 405.5 L2320.4 401.6 L2324.6 396.9 L2328.8 392.2 L2332.9 386.2 L2337.0 380.5 L2341.1 377.0 L2345.2 374.9 L2349.4 371.2 L2353.6 366.1 L2358.0 361.0 L2362.6 356.0 L2367.3 352.6 L2372.2 349.5 L2377.2 345.5 L2382.3 342.2 L2387.4 340.4 L2392.6 338.4 L2397.8 335.6 L2403.0 332.5 L2408.3 329.4 L2413.5 326.9 L2418.7 324.3 L2423.9 321.0 L2429.1 317.2 L2434.2 313.3 L2439.2 308.4 L2444.3 305.4 L2449.3 304.2 L2454.4 299.8 L2459.4 295.2 L2464.4 294.2 L2469.5 293.0 L2474.5 290.1 L2479.5 287.3 L2484.5 283.3 L2489.6 277.6 L2494.7 272.2 L2499.7 268.3 L2504.9 266.4 L2510.0 265.7 L2515.1 262.6 L2520.3 258.1 L2525.5 256.4 L2530.7 254.7 L2535.9 250.1 L2541.1 244.6 L2546.3 241.6 L2551.5 241.1 L2556.8 238.6 L2562.0 234.3 L2567.3 230.2 L2572.5 227.9 L2577.8 228.0 L2583.1 226.7 L2588.4 223.8 L2593.7 220.0 L2599.0 216.2 L2604.3 212.9 L2609.6 209.2 L2614.9 206.1 L2620.2 202.8 L2625.5 200.7 L2630.8 199.3 L2636.2 196.7 L2641.6 194.5 L2647.0 191.1 L2652.5 186.8 L2658.1 183.3 L2663.7 181.3 L2669.4 181.7 L2675.1 180.9 L2680.9 177.9 L2686.7 177.1 L2692.5 176.9 L2698.3 175.1 L2704.1 174.3 L2709.9 172.7 L2715.6 169.6 L2721.3 166.4 L2726.9 163.2 L2732.2 161.5 L2737.2 159.1 L2742.2 153.7 L2747.0 148.4 L2752.1 144.9 L2757.3 142.6 L2762.9 142.2 L2768.8 143.2 L2774.8 143.3 L2780.8 142.9 L2786.8 142.7 L2792.7 143.3 L2798.7 145.2 L2804.7 145.7 L2810.7 144.2 L2816.6 143.6 L2822.4 144.0 L2828.1 142.4 L2833.7 138.3 L2839.3 135.6 L2844.9 133.7 L2850.7 131.5 L2856.5 131.7 L2862.2 131.0 L2868.0 127.6 L2873.7 124.5 L2879.4 122.6 L2885.2 122.7 L2891.0 123.0 L2896.9 120.2 L2902.8 117.1 L2908.7 116.7 L2914.7 118.2 L2920.7 118.9 L2926.7 118.1 L2932.7 118.5 L2938.7 119.0 L2944.6 119.2 L2950.6 121.1 L2956.5 121.5 L2962.4 121.9 L2968.2 123.9 L2973.8 124.5 L2979.4 125.6 L2982.0 129.0" fill="none" stroke="#9040ff" stroke-width="7.0" stroke-linejoin="round" stroke-linecap="round"/>
<path d="M2259.9 505.8 L2265.8 500.9 L2271.8 496.1 L2277.7 491.3 L2283.7 486.6 L2289.7 481.9 L2295.6 477.3 L2301.6 472.7 L2307.5 468.1 L2313.5 463.6 L2319.5 459.2 L2325.4 454.8 L2331.4 450.4 L2337.3 446.1 L2343.3 441.9 L2349.3 437.6 L2355.2 433.5 L2361.2 429.4 L2367.1 425.3 L2373.1 421.3 L2379.1 417.3 L2385.0 413.3 L2391.0 409.4 L2396.9 405.5 L2402.9 401.7 L2408.9 397.9 L2414.8 394.2 L2420.8 390.5 L2426.7 386.9 L2432.7 383.3 L2438.7 379.8 L2444.6 376.4 L2450.6 373.0 L2456.5 369.7 L2462.5 366.4 L2468.5 363.2 L2474.4 360.0 L2480.4 356.9 L2486.3 353.8 L2492.3 350.8 L2498.3 347.8 L2504.2 344.8 L2510.2 341.8 L2516.1 338.8 L2522.1 335.9 L2528.1 333.0 L2534.0 330.0 L2540.0 327.1 L2545.9 324.1 L2551.9 321.2 L2557.9 318.2 L2563.8 315.2 L2569.8 312.1 L2575.7 309.1 L2581.7 306.0 L2587.7 302.9 L2593.6 299.8 L2599.6 296.6 L2605.5 293.5 L2611.5 290.4 L2617.5 287.3 L2623.4 284.1 L2629.4 281.0 L2635.3 277.9 L2641.3 274.8 L2647.3 271.7 L2653.2 268.6 L2659.2 265.5 L2665.1 262.5 L2671.1 259.5 L2677.1 256.5 L2683.0 253.5 L2689.0 250.5 L2694.9 247.6 L2700.9 244.8 L2706.9 241.9 L2712.8 239.1 L2718.8 236.4 L2724.7 233.6 L2730.7 230.9 L2736.7 228.3 L2742.6 225.6 L2748.6 223.0 L2754.5 220.4 L2760.5 217.8 L2766.5 215.3 L2772.4 212.7 L2778.4 210.2 L2784.3 207.7 L2790.3 205.2 L2796.2 202.8 L2802.2 200.3 L2808.2 197.9 L2814.1 195.5 L2820.1 193.2 L2826.0 190.8 L2832.0 188.5 L2838.0 186.2 L2843.9 183.9 L2849.9 181.5 L2855.8 179.2 L2861.8 177.0 L2867.8 174.7 L2873.7 172.5 L2879.7 170.2 L2885.6 167.9 L2891.6 165.5 L2897.6 163.2 L2903.5 160.8 L2909.5 158.5 L2915.4 156.1 L2921.4 153.7 L2927.4 151.3 L2933.3 148.8 L2939.3 146.4 L2945.2 144.0 L2951.2 141.5 L2957.2 139.1 L2963.1 136.6 L2969.1 134.1 L2975.0 131.7 L2981.0 129.2 L2987.0 126.7 L2992.9 124.2 L2998.9 121.7 L3004.8 119.1 L3010.8 116.5 L3016.8 113.9 L3022.7 111.3 L3028.7 108.7 L3034.6 106.1 L3040.6 103.5 L3046.6 101.0 L3052.5 98.5 L3058.5 96.1 L3064.4 93.7 L3070.4 91.4 L3076.4 89.2 L3082.3 87.0 L3088.3 85.0 L3094.2 82.9 L3100.2 80.9 L3106.2 78.9 L3112.1 76.9 L3118.1 74.9 L3124.0 73.0 L3130.0 71.0 L3136.0 68.9 L3141.9 66.9 L3147.9 64.7 L3153.8 62.6 L3159.8 60.3 L3165.8 58.0 L3171.7 55.6 L3177.7 53.1 L3183.6 50.4 L3189.6 47.6 L3195.6 44.5 L3201.5 41.4 L3207.5 38.3" fill="none" stroke="#9040ff" stroke-width="7.0" stroke-linejoin="round" stroke-linecap="round"/>
<path d="M2343.5 433.7L2360.6 424.2L2360.6 443.2Z" fill="#9040ff"/><path d="M2435.4 375.1L2452.5 365.6L2452.5 384.6Z" fill="#9040ff"/><path d="M2556.8 312.9L2573.9 303.4L2573.9 322.4Z" fill="#9040ff"/><path d="M2697.8 240.8L2714.9 231.3L2714.9 250.3Z" fill="#9040ff"/><path d="M2780.0 204.8L2797.1 195.3L2797.1 214.3Z" fill="#9040ff"/><path d="M2876.8 166.9L2893.9 157.4L2893.9 176.4Z" fill="#9040ff"/><path d="M2976.5 126.3L2993.6 116.8L2993.6 135.8Z" fill="#9040ff"/><path d="M3052.5 93.9L3069.6 84.4L3069.6 103.4Z" fill="#9040ff"/><path d="M3166.8 52.9L3183.9 43.4L3183.9 62.4Z" fill="#9040ff"/><path d="M3196.1 38.3L3213.2 28.8L3213.2 47.8Z" fill="#9040ff"/>
<path d="M1304.4 2221.2 L1306.2 2215.5 L1307.9 2209.8 L1309.8 2204.0 L1311.7 2198.4 L1313.7 2192.7 L1315.9 2187.1 L1318.3 2181.6 L1321.1 2176.3 L1324.1 2171.1 L1327.3 2166.1 L1330.7 2161.1 L1334.3 2156.3 L1337.9 2151.5 L1341.5 2146.7 L1345.1 2141.9 L1348.7 2137.1 L1352.4 2132.4 L1356.1 2127.6 L1359.8 2123.0 L1363.7 2118.3 L1367.5 2113.8 L1371.5 2109.3 L1375.6 2104.9 L1379.7 2100.5 L1384.0 2096.3 L1388.4 2092.2 L1392.9 2088.2 L1397.4 2084.3 L1401.9 2080.3 L1406.4 2076.4 L1411.0 2072.4 L1415.4 2068.5 L1419.9 2064.5 L1424.4 2060.5 L1428.9 2056.5 L1433.4 2052.5 L1437.9 2048.5 L1442.4 2044.6 L1446.9 2040.7 L1451.5 2036.8 L1456.1 2032.9 L1460.7 2029.1 L1465.4 2025.3 L1470.0 2021.5 L1474.7 2017.8 L1479.4 2014.0 L1484.1 2010.3 L1488.8 2006.6 L1493.6 2003.0 L1498.4 1999.4 L1503.3 1995.9 L1508.2 1992.5 L1513.2 1989.2 L1518.3 1985.9 L1523.4 1982.8 L1528.5 1979.6 L1533.6 1976.5 L1538.8 1973.5 L1544.0 1970.4 L1549.1 1967.4 L1554.3 1964.4 L1559.5 1961.3 L1564.6 1958.2 L1569.7 1955.1 L1574.8 1951.9 L1579.9 1948.7 L1585.0 1945.5 L1590.0 1942.3 L1595.1 1939.0 L1600.1 1935.8 L1605.2 1932.5 L1610.2 1929.3 L1615.3 1926.0 L1620.3 1922.8 L1625.3 1919.5 L1630.4 1916.3 L1635.4 1913.0 L1640.5 1909.8 L1645.5 1906.5 L1650.6 1903.3 L1655.7 1900.1 L1660.7 1896.9 L1665.8 1893.7 L1670.9 1890.5 L1676.0 1887.3 L1681.1 1884.1 L1686.1 1881.0 L1691.2 1877.8 L1696.3 1874.6 L1701.4 1871.4 L1706.5 1868.2 L1711.6 1865.1 L1716.7 1861.9 L1721.8 1858.8 L1726.9 1855.7 L1732.1 1852.5 L1737.2 1849.5 L1742.4 1846.4 L1747.5 1843.4 L1752.7 1840.3 L1757.9 1837.3 L1763.1 1834.4 L1768.3 1831.4 L1773.6 1828.4 L1778.8 1825.5 L1784.0 1822.5 L1789.2 1819.6 L1794.5 1816.7 L1799.7 1813.8 L1805.0 1810.9 L1810.3 1808.0 L1815.6 1805.2 L1820.8 1802.4 L1826.1 1799.5 L1831.5 1796.8 L1836.8 1794.0 L1842.1 1791.2 L1847.5 1788.5 L1852.8 1785.8 L1858.2 1783.2 L1863.6 1780.5 L1869.0 1778.0 L1874.5 1775.5 L1879.9 1773.0 L1885.4 1770.5 L1890.8 1768.0 L1896.3 1765.5 L1901.7 1762.9 L1907.2 1760.4 L1912.6 1757.8 L1918.0 1755.3 L1923.5 1752.7 L1928.9 1750.2 L1934.3 1747.6 L1939.7 1745.1 L1945.2 1742.5 L1950.6 1740.0 L1956.1 1737.5 L1961.5 1735.1 L1967.0 1732.6 L1972.5 1730.2 L1978.0 1727.8 L1983.5 1725.4 L1989.1 1723.1 L1994.6 1720.8 L2000.2 1718.6 L2005.7 1716.3 L2011.3 1714.0 L2016.9 1711.8 L2022.4 1709.6 L2028.0 1707.4 L2033.6 1705.2 L2039.2 1703.1 L2044.8 1700.9 L2050.4 1698.8 L2056.0 1696.7 L2061.7 1694.6 L2067.3 1692.6 L2073.0 1690.5 L2078.6 1688.5 L2084.3 1686.5 L2089.9 1684.5 L2095.6 1682.6 L2099.9 1681.1" fill="none" stroke="#080808" stroke-width="7.0" stroke-linejoin="round" stroke-linecap="round"/>
<path d="M1304.4 2136.4 L1308.7 2130.2 L1313.0 2124.3 L1317.3 2119.0 L1321.6 2114.8 L1325.9 2111.2 L1330.2 2107.9 L1334.4 2104.8 L1338.7 2101.9 L1343.0 2099.3 L1347.3 2096.8 L1351.6 2094.4 L1355.9 2092.1 L1360.2 2089.8 L1364.4 2087.5 L1368.7 2085.2 L1373.0 2082.9 L1377.3 2080.6 L1381.6 2078.4 L1385.9 2076.2 L1390.2 2074.1 L1394.5 2072.0 L1398.7 2070.0 L1403.0 2067.9 L1407.3 2065.9 L1411.6 2064.0 L1415.9 2062.0 L1420.2 2060.1 L1424.5 2058.2 L1428.7 2056.3 L1433.0 2054.4 L1437.3 2052.5 L1441.6 2050.6 L1445.9 2048.7 L1450.2 2046.8 L1454.5 2044.9 L1458.7 2042.9 L1463.0 2041.0 L1467.3 2039.1 L1471.6 2037.2 L1475.9 2035.3 L1480.2 2033.5 L1484.5 2031.6 L1488.8 2029.7 L1493.0 2027.9 L1497.3 2026.1 L1501.6 2024.2 L1505.9 2022.5 L1510.2 2020.7 L1514.5 2018.9 L1518.8 2017.2 L1523.0 2015.5 L1527.3 2013.8 L1531.6 2012.2 L1535.9 2010.6 L1540.2 2009.0 L1544.5 2007.4 L1548.8 2005.9 L1553.0 2004.4 L1557.3 2002.8 L1561.6 2001.3 L1565.9 1999.8 L1570.2 1998.3 L1574.5 1996.8 L1578.8 1995.2 L1583.1 1993.7 L1587.3 1992.2 L1591.6 1990.7 L1595.9 1989.1 L1600.2 1987.6 L1604.5 1986.1 L1608.8 1984.6 L1613.1 1983.1 L1617.3 1981.6 L1621.6 1980.1 L1625.9 1978.7 L1630.2 1977.2 L1634.5 1975.7 L1638.8 1974.3 L1643.1 1972.8 L1647.3 1971.4 L1651.6 1969.9 L1655.9 1968.5 L1660.2 1967.1 L1664.5 1965.6 L1668.8 1964.2 L1673.1 1962.8 L1677.3 1961.4 L1681.6 1960.0 L1685.9 1958.6 L1690.2 1957.2 L1694.5 1955.9 L1698.8 1954.5 L1703.1 1953.1 L1707.4 1951.7 L1711.6 1950.3 L1715.9 1949.0 L1720.2 1947.6 L1724.5 1946.3 L1728.8 1944.9 L1733.1 1943.6 L1737.4 1942.2 L1741.6 1940.9 L1745.9 1939.6 L1750.2 1938.3 L1754.5 1937.0 L1758.8 1935.7 L1763.1 1934.4 L1767.4 1933.2 L1771.6 1932.0 L1775.9 1930.8 L1780.2 1929.6 L1784.5 1928.4 L1788.8 1927.2 L1793.1 1925.9 L1797.4 1924.7 L1801.7 1923.4 L1805.9 1922.0 L1810.2 1920.6 L1814.5 1919.1 L1818.8 1917.6 L1823.1 1916.1 L1827.4 1914.6 L1831.7 1913.1 L1835.9 1911.6 L1840.2 1910.1 L1844.5 1908.7 L1848.8 1907.4 L1853.1 1906.1 L1857.4 1904.9 L1861.7 1903.8 L1865.9 1902.7 L1870.2 1901.7 L1874.5 1900.7 L1878.8 1899.6 L1883.1 1898.6 L1887.4 1897.5 L1891.7 1896.3 L1896.0 1895.2 L1900.2 1894.0 L1904.5 1892.8 L1908.8 1891.6 L1913.1 1890.4 L1917.4 1889.2 L1921.7 1888.0 L1926.0 1886.8 L1930.2 1885.6 L1934.5 1884.3 L1938.8 1883.1 L1943.1 1881.8 L1947.4 1880.5 L1951.7 1879.2 L1956.0 1877.9 L1960.2 1876.6 L1964.5 1875.3 L1968.8 1874.0 L1973.1 1872.6 L1977.4 1871.3 L1981.7 1869.9 L1986.0 1868.5" fill="none" stroke="#080808" stroke-width="7.0" stroke-linejoin="round" stroke-linecap="round"/>
<rect x="1311.1" y="2111.3" width="15.0" height="12.8" fill="#080808"/><rect x="1361.3" y="2078.8" width="15.0" height="12.8" fill="#080808"/><rect x="1443.3" y="2040.1" width="15.0" height="12.8" fill="#080808"/><rect x="1520.2" y="2007.3" width="15.0" height="12.8" fill="#080808"/><rect x="1562.9" y="1991.8" width="15.0" height="12.8" fill="#080808"/><rect x="1621.4" y="1971.3" width="15.0" height="12.8" fill="#080808"/><rect x="1678.5" y="1952.2" width="15.0" height="12.8" fill="#080808"/><rect x="1748.3" y="1930.2" width="15.0" height="12.8" fill="#080808"/><rect x="1791.7" y="1917.7" width="15.0" height="12.8" fill="#080808"/><rect x="1844.0" y="1900.2" width="15.0" height="12.8" fill="#080808"/><rect x="1873.2" y="1892.8" width="15.0" height="12.8" fill="#080808"/><rect x="1978.5" y="1862.1" width="15.0" height="12.8" fill="#080808"/>
<path d="M1304.4 2219.0 L1306.1 2213.3 L1307.9 2207.5 L1309.7 2201.8 L1311.5 2196.1 L1313.5 2190.4 L1315.6 2184.8 L1317.9 2179.3 L1320.5 2173.9 L1323.2 2168.5 L1326.2 2163.3 L1329.3 2158.2 L1332.6 2153.2 L1336.0 2148.2 L1339.4 2143.3 L1342.8 2138.3 L1346.2 2133.4 L1349.8 2128.6 L1353.4 2123.8 L1357.0 2119.0 L1360.7 2114.3 L1364.4 2109.6 L1368.1 2104.8 L1371.8 2100.1 L1375.5 2095.4 L1379.1 2090.6 L1382.7 2085.8 L1386.3 2080.9 L1389.8 2076.1 L1393.3 2071.2 L1396.9 2066.4 L1400.5 2061.6 L1404.1 2056.9 L1407.9 2052.2 L1411.8 2047.6 L1415.7 2043.1 L1419.7 2038.6 L1423.7 2034.1 L1427.8 2029.7 L1431.9 2025.3 L1436.1 2021.0 L1440.3 2016.8 L1444.6 2012.6 L1449.1 2008.6 L1453.6 2004.7 L1458.3 2000.9 L1463.1 1997.4 L1468.1 1994.0 L1473.1 1990.7 L1478.2 1987.5 L1483.4 1984.5 L1488.6 1981.6 L1493.9 1978.7 L1499.2 1975.9 L1504.5 1973.1 L1509.8 1970.3 L1515.1 1967.5 L1520.3 1964.6 L1525.5 1961.6 L1530.7 1958.5 L1535.9 1955.5 L1541.0 1952.4 L1546.1 1949.3 L1551.3 1946.2 L1556.4 1943.1 L1561.6 1940.0 L1566.7 1937.0 L1571.9 1933.9 L1577.1 1930.9 L1582.3 1927.9 L1587.5 1924.9 L1592.7 1921.8 L1597.9 1918.8 L1603.0 1915.8 L1608.2 1912.8 L1613.5 1909.9 L1618.7 1906.9 L1623.9 1903.9 L1629.1 1901.0 L1634.3 1898.0 L1639.6 1895.1 L1644.8 1892.2 L1650.1 1889.3 L1655.3 1886.4 L1660.6 1883.5 L1665.9 1880.6 L1671.1 1877.8 L1676.4 1875.0 L1681.8 1872.2 L1687.1 1869.4 L1692.4 1866.7 L1697.7 1863.9 L1703.1 1861.2 L1708.4 1858.5 L1713.8 1855.8 L1719.1 1853.0 L1724.5 1850.3 L1729.8 1847.6 L1735.2 1844.9 L1740.5 1842.2 L1745.9 1839.4 L1751.2 1836.7 L1756.5 1833.9 L1761.8 1831.1 L1767.1 1828.3 L1772.5 1825.5 L1777.8 1822.7 L1783.1 1819.9 L1788.4 1817.1 L1793.6 1814.3 L1798.9 1811.5 L1804.2 1808.6 L1809.5 1805.8 L1814.9 1803.0 L1820.2 1800.2 L1825.5 1797.5 L1830.8 1794.7 L1836.2 1792.0 L1841.5 1789.3 L1846.9 1786.6 L1852.2 1783.9 L1857.6 1781.2 L1863.0 1778.6 L1868.4 1776.0 L1873.8 1773.4 L1879.3 1770.9 L1884.7 1768.4 L1890.2 1765.9 L1895.7 1763.6 L1901.2 1761.2 L1906.8 1758.9 L1912.3 1756.6 L1917.8 1754.3 L1923.4 1752.0 L1928.9 1749.7 L1934.5 1747.5 L1940.1 1745.2 L1945.6 1743.0 L1951.2 1740.8 L1956.8 1738.6 L1962.4 1736.5 L1968.0 1734.3 L1973.6 1732.2 L1979.2 1730.1 L1984.9 1728.0 L1990.5 1726.0 L1996.2 1724.0 L2001.8 1722.0 L2007.5 1720.0 L2013.2 1718.1 L2018.9 1716.2 L2024.6 1714.3 L2030.3 1712.5 L2036.0 1710.7 L2041.7 1708.9 L2046.0 1707.6" fill="none" stroke="#ff1414" stroke-width="7.0" stroke-linejoin="round" stroke-linecap="round"/>
<path d="M1304.4 2101.1 L1308.7 2093.6 L1313.0 2086.5 L1317.3 2080.2 L1321.6 2075.0 L1325.9 2070.5 L1330.2 2066.5 L1334.4 2062.7 L1338.7 2059.3 L1343.0 2056.0 L1347.3 2052.9 L1351.6 2050.0 L1355.9 2047.2 L1360.2 2044.4 L1364.4 2041.7 L1368.7 2039.0 L1373.0 2036.4 L1377.3 2033.9 L1381.6 2031.4 L1385.9 2029.0 L1390.2 2026.7 L1394.5 2024.4 L1398.7 2022.2 L1403.0 2020.0 L1407.3 2017.8 L1411.6 2015.7 L1415.9 2013.6 L1420.2 2011.6 L1424.5 2009.5 L1428.7 2007.4 L1433.0 2005.4 L1437.3 2003.3 L1441.6 2001.3 L1445.9 1999.2 L1450.2 1997.1 L1454.5 1995.0 L1458.7 1993.0 L1463.0 1991.0 L1467.3 1988.9 L1471.6 1986.9 L1475.9 1984.9 L1480.2 1983.0 L1484.5 1981.0 L1488.8 1979.1 L1493.0 1977.1 L1497.3 1975.2 L1501.6 1973.3 L1505.9 1971.4 L1510.2 1969.5 L1514.5 1967.6 L1518.8 1965.7 L1523.0 1963.8 L1527.3 1961.9 L1531.6 1960.0 L1535.9 1958.1 L1540.2 1956.3 L1544.5 1954.4 L1548.8 1952.5 L1553.0 1950.7 L1557.3 1948.8 L1561.6 1946.9 L1565.9 1945.1 L1570.2 1943.3 L1574.5 1941.4 L1578.8 1939.6 L1583.1 1937.8 L1587.3 1936.0 L1591.6 1934.2 L1595.9 1932.4 L1600.2 1930.6 L1604.5 1928.8 L1608.8 1927.0 L1613.1 1925.3 L1617.3 1923.5 L1621.6 1921.8 L1625.9 1920.1 L1630.2 1918.4 L1634.5 1916.7 L1638.8 1915.0 L1643.1 1913.3 L1647.3 1911.7 L1651.6 1910.0 L1655.9 1908.5 L1660.2 1906.9 L1664.5 1905.3 L1668.8 1903.8 L1673.1 1902.2 L1677.3 1900.6 L1681.6 1899.0 L1685.9 1897.5 L1690.2 1895.8 L1694.5 1894.2 L1698.8 1892.5 L1703.1 1890.8 L1707.4 1889.1 L1711.6 1887.3 L1715.9 1885.5 L1720.2 1883.7 L1724.5 1881.9 L1728.8 1880.1 L1733.1 1878.3 L1737.4 1876.6 L1741.6 1874.8 L1745.9 1873.1 L1750.2 1871.5 L1754.5 1869.9 L1758.8 1868.3 L1763.1 1866.8 L1767.4 1865.3 L1771.6 1863.9 L1775.9 1862.4 L1780.2 1861.0 L1784.5 1859.6 L1788.8 1858.2 L1793.1 1856.8 L1797.4 1855.3 L1801.7 1853.8 L1805.9 1852.3 L1810.2 1850.9 L1814.5 1849.4 L1818.8 1847.8 L1823.1 1846.3 L1827.4 1844.8 L1831.7 1843.3 L1835.9 1841.8 L1840.2 1840.3 L1844.5 1838.8 L1848.8 1837.4 L1853.1 1835.9 L1857.4 1834.4 L1861.7 1833.0 L1865.9 1831.6 L1870.2 1830.1 L1874.5 1828.7 L1878.8 1827.4 L1883.1 1826.0 L1887.4 1824.6 L1891.7 1823.3 L1896.0 1821.9 L1900.2 1820.6 L1904.5 1819.3 L1908.8 1817.9 L1913.1 1816.6 L1917.4 1815.3 L1921.7 1814.0 L1926.0 1812.7 L1930.2 1811.3 L1934.5 1810.0 L1938.8 1808.7 L1943.1 1807.4 L1947.4 1806.1 L1951.7 1804.8 L1956.0 1803.6 L1960.2 1802.3 L1964.5 1801.0 L1968.8 1799.7 L1973.1 1798.5 L1977.4 1797.2 L1981.7 1795.9 L1986.0 1794.7" fill="none" stroke="#ff1414" stroke-width="7.0" stroke-linejoin="round" stroke-linecap="round"/>
<circle cx="1320.9" cy="2075.7" r="8.0" fill="#ff1414"/><circle cx="1362.9" cy="2042.7" r="8.0" fill="#ff1414"/><circle cx="1447.1" cy="1998.6" r="8.0" fill="#ff1414"/><circle cx="1529.1" cy="1961.1" r="8.0" fill="#ff1414"/><circle cx="1639.2" cy="1914.8" r="8.0" fill="#ff1414"/><circle cx="1695.3" cy="1893.9" r="8.0" fill="#ff1414"/><circle cx="1755.1" cy="1869.6" r="8.0" fill="#ff1414"/><circle cx="1797.4" cy="1855.3" r="8.0" fill="#ff1414"/><circle cx="1867.5" cy="1831.0" r="8.0" fill="#ff1414"/><circle cx="1916.3" cy="1815.6" r="8.0" fill="#ff1414"/><circle cx="1986.0" cy="1794.7" r="8.0" fill="#ff1414"/>
<path d="M1304.4 1944.6 L1306.0 1937.2 L1307.7 1931.2 L1309.7 1926.1 L1311.9 1920.5 L1314.2 1915.3 L1316.6 1912.2 L1319.2 1907.6 L1321.9 1899.8 L1324.9 1893.9 L1328.2 1890.5 L1331.8 1885.3 L1335.6 1879.2 L1339.6 1876.4 L1343.8 1874.2 L1348.1 1869.4 L1352.5 1864.5 L1357.1 1861.0 L1361.8 1856.0 L1366.6 1850.3 L1371.5 1847.1 L1376.4 1845.3 L1381.4 1843.1 L1386.4 1840.6 L1391.4 1836.4 L1396.5 1831.1 L1401.7 1828.6 L1407.0 1827.2 L1412.2 1823.1 L1417.5 1820.2 L1422.9 1819.1 L1428.2 1815.4 L1433.6 1811.4 L1438.9 1808.8 L1444.3 1805.5 L1449.6 1803.0 L1454.9 1802.3 L1460.2 1800.2 L1465.5 1795.3 L1470.9 1791.1 L1476.2 1789.1 L1481.5 1786.8 L1486.8 1783.6 L1492.2 1781.3 L1497.5 1779.2 L1502.9 1774.7 L1508.2 1771.4 L1513.6 1771.6 L1518.9 1769.4 L1524.3 1764.2 L1529.6 1761.0 L1535.0 1760.9 L1540.3 1759.2 L1545.7 1754.7 L1551.0 1751.1 L1556.3 1748.9 L1561.7 1747.1 L1567.0 1743.9 L1572.3 1740.7 L1577.6 1738.8 L1582.9 1735.3 L1588.3 1731.1 L1593.6 1729.9 L1598.9 1729.9 L1604.3 1727.1 L1609.6 1723.0 L1615.0 1719.0 L1620.4 1714.9 L1625.8 1713.5 L1631.2 1712.2 L1636.6 1709.3 L1642.1 1708.6 L1647.5 1707.0 L1653.0 1702.7 L1658.5 1697.8 L1664.1 1693.8 L1669.6 1692.9 L1675.2 1692.5 L1680.7 1690.7 L1686.3 1688.1 L1691.9 1685.4 L1697.5 1684.9 L1703.1 1684.0 L1708.7 1680.0 L1714.3 1675.1 L1719.9 1671.4 L1725.5 1668.6 L1731.1 1667.6 L1736.7 1668.2 L1742.3 1667.1 L1747.9 1664.5 L1753.5 1660.8 L1759.1 1659.1 L1764.6 1659.9 L1770.2 1657.3 L1775.7 1652.6 L1781.3 1650.9 L1786.8 1647.8 L1792.3 1643.7 L1797.8 1642.1 L1803.3 1639.7 L1808.8 1638.3 L1814.3 1638.5 L1819.8 1634.8 L1825.2 1630.0 L1830.7 1627.3 L1836.2 1625.2 L1841.6 1624.6 L1847.1 1622.9 L1852.5 1618.3 L1858.0 1613.1 L1863.4 1610.5 L1868.8 1609.8 L1874.3 1608.7 L1879.7 1606.6 L1885.1 1602.8 L1890.5 1598.8 L1895.1 1598.5" fill="none" stroke="#5ee000" stroke-width="7.0" stroke-linejoin="round" stroke-linecap="round"/>
<path d="M1304.4 1928.0 L1309.5 1919.9 L1314.5 1911.8 L1319.5 1903.9 L1324.5 1896.3 L1329.6 1889.1 L1334.6 1882.3 L1339.6 1876.0 L1344.6 1870.3 L1349.6 1865.2 L1354.7 1860.4 L1359.7 1855.8 L1364.7 1851.3 L1369.7 1847.1 L1374.8 1843.0 L1379.8 1839.1 L1384.8 1835.3 L1389.8 1831.6 L1394.9 1828.1 L1399.9 1824.7 L1404.9 1821.4 L1409.9 1818.2 L1414.9 1815.1 L1420.0 1812.1 L1425.0 1809.1 L1430.0 1806.2 L1435.0 1803.3 L1440.1 1800.5 L1445.1 1797.8 L1450.1 1795.1 L1455.1 1792.5 L1460.2 1790.0 L1465.2 1787.5 L1470.2 1785.1 L1475.2 1782.8 L1480.2 1780.5 L1485.3 1778.3 L1490.3 1776.1 L1495.3 1773.9 L1500.3 1771.8 L1505.4 1769.7 L1510.4 1767.6 L1515.4 1765.5 L1520.4 1763.5 L1525.5 1761.4 L1530.5 1759.3 L1535.5 1757.3 L1540.5 1755.2 L1545.5 1753.1 L1550.6 1751.0 L1555.6 1748.8 L1560.6 1746.6 L1565.6 1744.4 L1570.7 1742.1 L1575.7 1739.9 L1580.7 1737.6 L1585.7 1735.3 L1590.7 1733.0 L1595.8 1730.7 L1600.8 1728.4 L1605.8 1726.1 L1610.8 1723.7 L1615.9 1721.4 L1620.9 1719.1 L1625.9 1716.8 L1630.9 1714.5 L1636.0 1712.2 L1641.0 1709.8 L1646.0 1707.5 L1651.0 1705.2 L1656.0 1702.9 L1661.1 1700.6 L1666.1 1698.3 L1671.1 1696.0 L1676.1 1693.8 L1681.2 1691.5 L1686.2 1689.2 L1691.2 1687.0 L1696.2 1684.7 L1701.3 1682.5 L1706.3 1680.2 L1711.3 1678.0 L1716.3 1675.8 L1721.3 1673.5 L1726.4 1671.3 L1731.4 1669.1 L1736.4 1666.9 L1741.4 1664.7 L1746.5 1662.5 L1751.5 1660.3 L1756.5 1658.1 L1761.5 1655.9 L1766.6 1653.7 L1771.6 1651.6 L1776.6 1649.4 L1781.6 1647.3 L1786.6 1645.2 L1791.7 1643.1 L1796.7 1640.9 L1801.7 1638.8 L1806.7 1636.8 L1811.8 1634.7 L1816.8 1632.6 L1821.8 1630.6 L1826.8 1628.6 L1831.9 1626.6 L1836.9 1624.6 L1841.9 1622.6 L1846.9 1620.7 L1851.9 1618.8 L1857.0 1616.9 L1862.0 1615.1 L1867.0 1613.2 L1872.0 1611.4 L1877.1 1609.5 L1882.1 1607.7 L1887.1 1605.8 L1892.1 1604.0 L1897.1 1602.1 L1902.2 1600.3 L1907.2 1598.4 L1912.2 1596.5 L1917.2 1594.7 L1922.3 1592.8 L1927.3 1591.0 L1932.3 1589.1 L1937.3 1587.2 L1942.4 1585.4 L1947.4 1583.5 L1952.4 1581.6 L1957.4 1579.7 L1962.4 1577.8 L1967.5 1575.9 L1972.5 1574.0 L1977.5 1572.0 L1982.5 1570.0 L1987.6 1568.0 L1992.6 1566.0 L1997.6 1564.1 L2002.6 1562.1 L2007.7 1560.1 L2012.7 1558.1 L2017.7 1556.2 L2022.7 1554.2 L2027.7 1552.3 L2032.8 1550.4 L2037.8 1548.6 L2042.8 1546.7 L2047.8 1545.0 L2052.9 1543.2 L2057.9 1541.5 L2062.9 1539.8 L2067.9 1538.2 L2073.0 1536.5 L2078.0 1534.9 L2083.0 1533.4 L2088.0 1531.8 L2093.0 1530.3 L2098.1 1528.8 L2103.1 1527.3" fill="none" stroke="#5ee000" stroke-width="7.0" stroke-linejoin="round" stroke-linecap="round"/>
<path d="M1569.1 1731.5L1578.6 1748.6L1559.6 1748.6Z" fill="#5ee000"/><path d="M1691.9 1675.3L1701.4 1692.4L1682.4 1692.4Z" fill="#5ee000"/><path d="M1779.8 1636.7L1789.3 1653.8L1770.3 1653.8Z" fill="#5ee000"/><path d="M1836.0 1613.5L1845.5 1630.6L1826.5 1630.6Z" fill="#5ee000"/><path d="M1957.4 1568.3L1966.9 1585.4L1947.9 1585.4Z" fill="#5ee000"/><path d="M2052.4 1532.0L2061.9 1549.1L2042.9 1549.1Z" fill="#5ee000"/><path d="M2103.1 1515.9L2112.6 1533.0L2093.6 1533.0Z" fill="#5ee000"/>
<path d="M1305.6 1928.0 L1305.7 1923.7 L1305.8 1916.7 L1305.9 1910.1 L1306.1 1904.1 L1306.2 1899.1 L1306.3 1892.1 L1306.4 1885.0 L1306.6 1881.4 L1306.7 1875.7 L1308.3 1868.1 L1314.1 1868.0 L1319.7 1871.5 L1325.3 1876.1 L1331.3 1879.2 L1336.8 1876.4 L1341.5 1869.2 L1345.6 1863.5 L1349.4 1860.8 L1353.1 1856.5 L1356.7 1850.9 L1360.3 1847.9 L1364.1 1844.0 L1367.9 1836.6 L1371.5 1831.9 L1374.8 1828.2 L1378.1 1821.1 L1381.3 1814.3 L1384.6 1810.9 L1388.0 1807.4 L1391.7 1801.0 L1395.9 1796.2 L1400.9 1795.8 L1406.5 1795.5 L1412.2 1793.2 L1418.0 1791.4 L1423.9 1789.9 L1429.8 1787.0 L1435.7 1785.2 L1441.6 1784.7 L1447.3 1782.8 L1452.9 1779.3 L1458.2 1777.4 L1463.0 1776.0 L1467.4 1771.2 L1471.6 1767.2 L1475.5 1763.7 L1479.4 1757.3 L1483.1 1751.9 L1486.8 1747.1 L1490.5 1740.4 L1494.2 1735.7 L1498.0 1733.2 L1501.8 1728.1 L1505.8 1722.1 L1509.9 1718.9 L1513.8 1717.1 L1517.8 1713.2 L1521.7 1707.0 L1525.7 1702.0 L1529.7 1698.3 L1533.8 1693.7 L1538.1 1689.1 L1542.5 1685.3 L1547.0 1683.3 L1551.6 1679.9 L1556.3 1674.3 L1561.1 1670.0 L1565.9 1667.2 L1570.7 1664.1 L1575.5 1660.5 L1580.3 1655.9 L1585.1 1650.6 L1590.0 1648.0 L1594.9 1646.1 L1599.7 1643.2 L1604.6 1640.5 L1609.5 1635.7 L1614.5 1631.5 L1619.4 1629.2 L1624.3 1625.2 L1629.3 1621.5 L1634.2 1619.4 L1639.2 1615.7 L1644.1 1611.3 L1649.0 1608.8 L1653.9 1605.0 L1658.7 1599.6 L1663.6 1597.0 L1668.5 1596.5 L1673.4 1593.5 L1678.5 1587.8 L1683.7 1584.5 L1689.1 1581.9 L1694.4 1576.2 L1699.8 1572.6 L1705.3 1572.5 L1710.8 1570.2 L1716.3 1565.8 L1721.9 1562.7 L1727.4 1560.8 L1733.0 1559.0 L1738.6 1556.7 L1744.2 1554.2 L1749.8 1552.6 L1755.5 1551.1 L1761.2 1550.1 L1766.8 1549.8 L1772.6 1547.1 L1776.1 1546.7" fill="none" stroke="#0a32e0" stroke-width="7.0" stroke-linejoin="round" stroke-linecap="round"/>
<path d="M1305.6 1889.5 L1310.6 1884.5 L1315.7 1879.6 L1320.7 1874.8 L1325.7 1870.0 L1330.8 1865.4 L1335.8 1860.8 L1340.8 1856.4 L1345.9 1852.1 L1350.9 1848.0 L1355.9 1843.9 L1361.0 1839.8 L1366.0 1835.7 L1371.0 1831.7 L1376.1 1827.7 L1381.1 1823.8 L1386.1 1820.0 L1391.2 1816.2 L1396.2 1812.4 L1401.2 1808.8 L1406.3 1805.2 L1411.3 1801.8 L1416.3 1798.4 L1421.4 1795.1 L1426.4 1792.0 L1431.4 1788.9 L1436.5 1786.0 L1441.5 1783.2 L1446.5 1780.5 L1451.6 1777.9 L1456.6 1775.3 L1461.6 1772.9 L1466.7 1770.5 L1471.7 1768.2 L1476.8 1765.9 L1481.8 1763.7 L1486.8 1761.5 L1491.9 1759.4 L1496.9 1757.3 L1501.9 1755.2 L1507.0 1753.1 L1512.0 1751.1 L1517.0 1749.0 L1522.1 1747.0 L1527.1 1745.0 L1532.1 1742.9 L1537.2 1740.8 L1542.2 1738.7 L1547.2 1736.6 L1552.3 1734.4 L1557.3 1732.2 L1562.3 1729.9 L1567.4 1727.6 L1572.4 1725.3 L1577.4 1722.9 L1582.5 1720.5 L1587.5 1718.1 L1592.5 1715.6 L1597.6 1713.2 L1602.6 1710.7 L1607.6 1708.2 L1612.7 1705.7 L1617.7 1703.2 L1622.8 1700.7 L1627.8 1698.2 L1632.8 1695.7 L1637.9 1693.2 L1642.9 1690.7 L1647.9 1688.2 L1653.0 1685.7 L1658.0 1683.2 L1663.0 1680.8 L1668.1 1678.3 L1673.1 1675.9 L1678.1 1673.5 L1683.2 1671.1 L1688.2 1668.7 L1693.2 1666.4 L1698.3 1664.1 L1703.3 1661.8 L1708.3 1659.6 L1713.4 1657.4 L1718.4 1655.2 L1723.4 1653.1 L1728.5 1650.9 L1733.5 1648.8 L1738.5 1646.7 L1743.6 1644.6 L1748.6 1642.6 L1753.6 1640.5 L1758.7 1638.5 L1763.7 1636.5 L1768.8 1634.5 L1773.8 1632.5 L1778.8 1630.5 L1783.9 1628.5 L1788.9 1626.5 L1793.9 1624.5 L1799.0 1622.6 L1804.0 1620.6 L1809.0 1618.6 L1814.1 1616.7 L1819.1 1614.7 L1824.1 1612.7 L1829.2 1610.7 L1834.2 1608.8 L1839.2 1606.8 L1844.3 1604.8 L1849.3 1602.8 L1854.3 1600.9 L1859.4 1598.9 L1864.4 1597.0 L1869.4 1595.1 L1874.5 1593.1 L1879.5 1591.2 L1884.5 1589.3 L1889.6 1587.4 L1894.6 1585.4 L1899.6 1583.5 L1904.7 1581.6 L1909.7 1579.7 L1914.8 1577.9 L1919.8 1576.0 L1924.8 1574.1 L1929.9 1572.2 L1934.9 1570.4 L1939.9 1568.5 L1945.0 1566.7 L1950.0 1564.8 L1955.0 1562.9 L1960.1 1561.1 L1965.1 1559.2 L1970.1 1557.4 L1975.2 1555.5 L1980.2 1553.7 L1985.2 1551.8 L1990.3 1549.9 L1995.3 1548.1 L2000.3 1546.2 L2005.4 1544.3 L2010.4 1542.4 L2015.4 1540.5 L2020.5 1538.6 L2025.5 1536.6 L2030.5 1534.7 L2035.6 1532.8 L2040.6 1530.8 L2045.6 1528.9 L2050.7 1527.0 L2055.7 1525.0 L2060.7 1523.0 L2065.8 1521.1 L2070.8 1519.1 L2075.9 1517.1 L2080.9 1515.2 L2085.9 1513.2 L2091.0 1511.2 L2096.0 1509.2 L2101.0 1507.2 L2106.1 1505.2" fill="none" stroke="#0a32e0" stroke-width="7.0" stroke-linejoin="round" stroke-linecap="round"/>
<path d="M1565.4 1739.9L1574.9 1722.8L1555.9 1722.8Z" fill="#0a32e0"/><path d="M1709.5 1670.5L1719.0 1653.4L1700.0 1653.4Z" fill="#0a32e0"/><path d="M1832.3 1620.9L1841.8 1603.8L1822.8 1603.8Z" fill="#0a32e0"/><path d="M2020.9 1549.8L2030.4 1532.7L2011.4 1532.7Z" fill="#0a32e0"/><path d="M2106.1 1516.6L2115.6 1499.5L2096.6 1499.5Z" fill="#0a32e0"/>
<path d="M1304.4 1950.1 L1306.0 1945.7 L1307.5 1937.3 L1309.1 1930.4 L1310.7 1927.1 L1312.3 1923.6 L1313.9 1918.3 L1315.6 1911.8 L1317.3 1904.4 L1319.1 1897.0 L1321.0 1889.8 L1323.1 1884.9 L1325.5 1881.9 L1328.1 1876.5 L1331.5 1869.2 L1335.1 1863.4 L1339.1 1860.4 L1343.2 1857.4 L1347.6 1851.4 L1352.1 1846.2 L1356.9 1843.6 L1361.8 1841.6 L1366.8 1839.6 L1371.9 1836.4 L1377.0 1833.7 L1382.0 1832.4 L1387.1 1827.9 L1392.2 1821.3 L1397.3 1817.5 L1402.6 1814.9 L1407.8 1812.4 L1413.2 1812.1 L1418.5 1809.9 L1423.8 1806.4 L1429.2 1804.7 L1434.5 1800.9 L1439.9 1796.7 L1445.1 1795.1 L1450.4 1793.5 L1455.6 1791.4 L1460.7 1789.5 L1465.8 1785.5 L1470.9 1779.8 L1475.9 1774.4 L1481.0 1770.2 L1486.0 1767.2 L1491.0 1763.6 L1496.0 1761.1 L1501.0 1759.1 L1506.0 1753.9 L1511.1 1750.5 L1516.1 1749.9 L1521.2 1747.2 L1526.3 1744.1 L1531.5 1741.2 L1536.7 1736.3 L1542.0 1732.6 L1547.3 1730.2 L1552.6 1727.6 L1557.9 1727.3 L1563.3 1726.9 L1568.7 1724.4 L1574.1 1719.9 L1579.5 1714.4 L1584.9 1712.8 L1590.4 1713.3 L1595.8 1711.0 L1601.3 1707.3 L1606.7 1703.6 L1612.2 1699.4 L1617.7 1695.6 L1623.2 1694.2 L1628.7 1693.8 L1634.1 1692.1 L1639.6 1689.2 L1645.1 1685.6 L1650.6 1683.9 L1656.0 1680.9 L1661.5 1677.0 L1667.0 1676.5 L1672.5 1675.7 L1678.0 1673.4 L1683.5 1670.9 L1689.0 1668.7 L1694.5 1665.8 L1700.0 1663.1 L1705.5 1661.5 L1711.1 1657.7 L1716.6 1654.9 L1722.1 1653.8 L1727.6 1650.2 L1733.1 1647.5 L1738.7 1647.0 L1744.2 1644.6 L1749.7 1639.5 L1755.2 1636.0 L1760.7 1635.6 L1766.3 1634.9 L1771.8 1632.1 L1777.3 1629.2 L1782.8 1628.2 L1788.3 1627.2 L1793.8 1624.8 L1799.3 1621.9 L1804.8 1618.5 L1810.2 1616.0 L1815.7 1613.2 L1821.2 1609.5 L1826.7 1608.0 L1832.1 1607.1 L1837.6 1603.4 L1843.1 1598.2 L1848.6 1596.6 L1854.1 1597.2 L1859.6 1594.0 L1865.1 1589.1 L1870.6 1587.6 L1876.1 1587.7 L1881.6 1585.6 L1887.2 1580.8 L1892.7 1576.0 L1898.3 1572.8 L1903.8 1570.2 L1909.3 1567.8 L1914.9 1566.9 L1920.4 1567.4 L1926.0 1566.1 L1931.7 1563.9 L1937.4 1561.7 L1943.1 1557.7 L1948.9 1555.8 L1954.8 1556.3 L1960.7 1554.7 L1966.5 1553.3 L1972.4 1554.3 L1978.4 1553.9 L1984.3 1551.8 L1986.7 1551.1" fill="none" stroke="#80f8d8" stroke-width="7.0" stroke-linejoin="round" stroke-linecap="round"/>
<path d="M1304.4 1906.0 L1309.5 1897.8 L1314.5 1889.8 L1319.5 1881.9 L1324.5 1874.3 L1329.6 1867.0 L1334.6 1860.2 L1339.6 1853.9 L1344.6 1848.2 L1349.6 1843.1 L1354.7 1838.3 L1359.7 1833.8 L1364.7 1829.4 L1369.7 1825.2 L1374.8 1821.2 L1379.8 1817.4 L1384.8 1813.7 L1389.8 1810.1 L1394.9 1806.7 L1399.9 1803.3 L1404.9 1800.1 L1409.9 1796.9 L1414.9 1793.7 L1420.0 1790.6 L1425.0 1787.6 L1430.0 1784.5 L1435.0 1781.5 L1440.1 1778.4 L1445.1 1775.4 L1450.1 1772.4 L1455.1 1769.5 L1460.2 1766.7 L1465.2 1763.9 L1470.2 1761.1 L1475.2 1758.4 L1480.2 1755.8 L1485.3 1753.1 L1490.3 1750.5 L1495.3 1748.0 L1500.3 1745.4 L1505.4 1742.9 L1510.4 1740.4 L1515.4 1737.9 L1520.4 1735.4 L1525.5 1733.0 L1530.5 1730.5 L1535.5 1728.0 L1540.5 1725.5 L1545.5 1723.1 L1550.6 1720.6 L1555.6 1718.1 L1560.6 1715.5 L1565.6 1713.0 L1570.7 1710.4 L1575.7 1707.9 L1580.7 1705.3 L1585.7 1702.7 L1590.7 1700.1 L1595.8 1697.5 L1600.8 1694.9 L1605.8 1692.3 L1610.8 1689.7 L1615.9 1687.1 L1620.9 1684.5 L1625.9 1681.9 L1630.9 1679.3 L1636.0 1676.8 L1641.0 1674.2 L1646.0 1671.7 L1651.0 1669.1 L1656.0 1666.6 L1661.1 1664.2 L1666.1 1661.7 L1671.1 1659.2 L1676.1 1656.8 L1681.2 1654.4 L1686.2 1652.0 L1691.2 1649.7 L1696.2 1647.4 L1701.3 1645.1 L1706.3 1642.9 L1711.3 1640.7 L1716.3 1638.5 L1721.3 1636.4 L1726.4 1634.3 L1731.4 1632.2 L1736.4 1630.2 L1741.4 1628.1 L1746.5 1626.1 L1751.5 1624.2 L1756.5 1622.2 L1761.5 1620.3 L1766.6 1618.4 L1771.6 1616.5 L1776.6 1614.6 L1781.6 1612.7 L1786.6 1610.8 L1791.7 1608.9 L1796.7 1607.0 L1801.7 1605.1 L1806.7 1603.2 L1811.8 1601.3 L1816.8 1599.4 L1821.8 1597.5 L1826.8 1595.5 L1831.9 1593.6 L1836.9 1591.6 L1841.9 1589.6 L1846.9 1587.6 L1851.9 1585.5 L1857.0 1583.4 L1862.0 1581.3 L1867.0 1579.2 L1872.0 1577.0 L1877.1 1574.8 L1882.1 1572.6 L1887.1 1570.4 L1892.1 1568.2 L1897.1 1565.9 L1902.2 1563.7 L1907.2 1561.5 L1912.2 1559.2 L1917.2 1557.0 L1922.3 1554.9 L1927.3 1552.7 L1932.3 1550.5 L1937.3 1548.4 L1942.4 1546.3 L1947.4 1544.3 L1952.4 1542.3 L1957.4 1540.3 L1962.4 1538.4 L1967.5 1536.5 L1972.5 1534.7 L1977.5 1532.9 L1982.5 1531.2 L1987.6 1529.5 L1992.6 1527.8 L1997.6 1526.2 L2002.6 1524.6 L2007.7 1522.9 L2012.7 1521.3 L2017.7 1519.7 L2022.7 1518.1 L2027.7 1516.5 L2032.8 1514.8 L2037.8 1513.1 L2042.8 1511.4 L2047.8 1509.7 L2052.9 1507.9 L2057.9 1506.1 L2062.9 1504.2 L2067.9 1502.3 L2073.0 1500.4 L2078.0 1498.4 L2083.0 1496.4 L2088.0 1494.4 L2093.0 1492.4 L2098.1 1490.3 L2103.1 1488.3" fill="none" stroke="#80f8d8" stroke-width="7.0" stroke-linejoin="round" stroke-linecap="round"/>
<path d="M1840.9 1586.4H1858.9M1849.9 1577.4V1595.4" stroke="#80f8d8" stroke-width="5"/><path d="M1954.8 1537.9H1972.8M1963.8 1528.9V1546.9" stroke="#80f8d8" stroke-width="5"/><path d="M2046.4 1507.0H2064.4M2055.4 1498.0V1516.0" stroke="#80f8d8" stroke-width="5"/><path d="M2094.1 1488.3H2112.1M2103.1 1479.3V1497.3" stroke="#80f8d8" stroke-width="5"/>
<path d="M1305.6 1917.0 L1306.3 1908.8 L1307.1 1903.5 L1307.8 1899.6 L1308.5 1894.1 L1309.3 1886.5 L1310.0 1878.8 L1310.8 1874.6 L1311.7 1872.4 L1312.6 1867.5 L1313.7 1859.1 L1315.0 1849.4 L1317.4 1842.4 L1320.3 1839.4 L1323.4 1836.1 L1326.9 1829.7 L1330.9 1823.9 L1335.3 1821.2 L1340.3 1819.8 L1345.9 1818.6 L1351.9 1816.9 L1357.8 1813.3 L1363.8 1812.8 L1369.8 1814.5 L1375.8 1813.8 L1381.7 1813.9 L1387.1 1811.5 L1391.3 1805.2 L1394.9 1800.8 L1398.3 1796.6 L1401.7 1791.5 L1405.2 1787.3 L1409.2 1781.0 L1414.0 1776.8 L1419.0 1774.9 L1424.2 1772.6 L1429.5 1771.4 L1434.9 1767.4 L1440.4 1762.0 L1445.9 1760.1 L1451.4 1760.6 L1456.8 1759.1 L1462.2 1754.7 L1467.5 1751.5 L1472.7 1749.8 L1477.8 1747.5 L1482.7 1743.7 L1487.6 1738.6 L1492.3 1735.4 L1497.1 1734.4 L1501.8 1730.9 L1506.6 1726.3 L1511.3 1722.3 L1516.1 1717.6 L1520.9 1715.4 L1525.8 1713.1 L1530.8 1708.7 L1535.9 1703.8 L1541.2 1700.0 L1546.6 1699.2 L1552.0 1697.6 L1557.5 1694.4 L1563.1 1690.9 L1568.7 1688.3 L1574.3 1687.8 L1580.0 1686.0 L1585.6 1682.5 L1591.2 1679.6 L1596.8 1677.6 L1602.4 1675.9 L1607.9 1673.3 L1613.3 1668.7 L1618.7 1664.9 L1623.9 1663.2 L1629.2 1662.5 L1634.4 1660.1 L1639.5 1655.3 L1644.7 1651.6 L1649.8 1648.1 L1655.0 1645.3 L1660.2 1642.4 L1665.4 1639.4 L1670.7 1637.5 L1676.1 1634.7 L1681.6 1632.4 L1687.1 1630.7 L1692.7 1629.4 L1698.3 1628.2 L1704.0 1626.2 L1709.7 1624.1 L1715.4 1621.9 L1721.1 1619.7 L1726.8 1615.4 L1732.5 1611.4 L1738.2 1611.3 L1743.9 1611.4 L1749.6 1608.8 L1755.3 1606.9 L1761.0 1605.4 L1766.6 1602.6 L1772.3 1601.2 L1778.0 1599.3 L1783.7 1597.7 L1789.4 1597.5 L1795.1 1594.5 L1800.7 1591.9 L1806.4 1592.1 L1812.1 1590.3 L1817.7 1585.4 L1823.3 1583.3 L1828.9 1583.6 L1834.5 1581.0 L1839.9 1577.6 L1845.4 1575.9 L1850.9 1574.1 L1856.3 1571.4 L1861.8 1569.0 L1867.3 1565.2 L1872.9 1561.3 L1878.5 1561.1 L1884.2 1561.1 L1890.0 1558.5 L1895.9 1554.9 L1901.8 1553.3 L1907.7 1554.0 L1913.7 1553.3 L1918.2 1553.3" fill="none" stroke="#9040ff" stroke-width="7.0" stroke-linejoin="round" stroke-linecap="round"/>
<path d="M1304.4 1884.0 L1309.5 1876.5 L1314.5 1869.2 L1319.5 1862.1 L1324.5 1855.2 L1329.6 1848.6 L1334.6 1842.4 L1339.6 1836.6 L1344.6 1831.4 L1349.6 1826.8 L1354.7 1822.4 L1359.7 1818.3 L1364.7 1814.4 L1369.7 1810.6 L1374.8 1807.1 L1379.8 1803.6 L1384.8 1800.3 L1389.8 1797.1 L1394.9 1794.0 L1399.9 1791.0 L1404.9 1788.0 L1409.9 1785.1 L1414.9 1782.2 L1420.0 1779.3 L1425.0 1776.4 L1430.0 1773.4 L1435.0 1770.4 L1440.1 1767.4 L1445.1 1764.3 L1450.1 1761.3 L1455.1 1758.3 L1460.2 1755.3 L1465.2 1752.3 L1470.2 1749.3 L1475.2 1746.4 L1480.2 1743.5 L1485.3 1740.6 L1490.3 1737.7 L1495.3 1734.9 L1500.3 1732.0 L1505.4 1729.2 L1510.4 1726.4 L1515.4 1723.6 L1520.4 1720.9 L1525.5 1718.1 L1530.5 1715.3 L1535.5 1712.6 L1540.5 1709.9 L1545.5 1707.2 L1550.6 1704.5 L1555.6 1701.8 L1560.6 1699.1 L1565.6 1696.5 L1570.7 1693.8 L1575.7 1691.1 L1580.7 1688.5 L1585.7 1685.8 L1590.7 1683.1 L1595.8 1680.4 L1600.8 1677.8 L1605.8 1675.1 L1610.8 1672.5 L1615.9 1669.9 L1620.9 1667.2 L1625.9 1664.6 L1630.9 1662.0 L1636.0 1659.5 L1641.0 1656.9 L1646.0 1654.4 L1651.0 1651.9 L1656.0 1649.4 L1661.1 1646.9 L1666.1 1644.5 L1671.1 1642.1 L1676.1 1639.7 L1681.2 1637.4 L1686.2 1635.1 L1691.2 1632.8 L1696.2 1630.6 L1701.3 1628.4 L1706.3 1626.3 L1711.3 1624.2 L1716.3 1622.1 L1721.3 1620.2 L1726.4 1618.2 L1731.4 1616.3 L1736.4 1614.5 L1741.4 1612.6 L1746.5 1610.8 L1751.5 1609.1 L1756.5 1607.3 L1761.5 1605.6 L1766.6 1603.9 L1771.6 1602.2 L1776.6 1600.6 L1781.6 1598.9 L1786.6 1597.2 L1791.7 1595.6 L1796.7 1593.9 L1801.7 1592.2 L1806.7 1590.5 L1811.8 1588.8 L1816.8 1587.0 L1821.8 1585.3 L1826.8 1583.5 L1831.9 1581.7 L1836.9 1579.8 L1841.9 1577.9 L1846.9 1576.0 L1851.9 1574.0 L1857.0 1571.9 L1862.0 1569.8 L1867.0 1567.6 L1872.0 1565.4 L1877.1 1563.2 L1882.1 1560.9 L1887.1 1558.6 L1892.1 1556.3 L1897.1 1554.0 L1902.2 1551.6 L1907.2 1549.3 L1912.2 1546.9 L1917.2 1544.6 L1922.3 1542.2 L1927.3 1539.9 L1932.3 1537.6 L1937.3 1535.4 L1942.4 1533.1 L1947.4 1530.9 L1952.4 1528.8 L1957.4 1526.7 L1962.4 1524.6 L1967.5 1522.6 L1972.5 1520.7 L1977.5 1518.8 L1982.5 1516.9 L1987.6 1515.1 L1992.6 1513.3 L1997.6 1511.5 L2002.6 1509.7 L2007.7 1508.0 L2012.7 1506.2 L2017.7 1504.5 L2022.7 1502.7 L2027.7 1500.9 L2032.8 1499.2 L2037.8 1497.4 L2042.8 1495.6 L2047.8 1493.7 L2052.9 1491.9 L2057.9 1489.9 L2062.9 1488.0 L2067.9 1486.1 L2073.0 1484.1 L2078.0 1482.1 L2083.0 1480.1 L2088.0 1478.1 L2093.0 1476.1 L2098.1 1474.1 L2103.1 1472.1" fill="none" stroke="#9040ff" stroke-width="7.0" stroke-linejoin="round" stroke-linecap="round"/>
<path d="M1838.5 1574.8L1855.6 1565.3L1855.6 1584.3Z" fill="#9040ff"/><path d="M1952.4 1524.1L1969.5 1514.6L1969.5 1533.6Z" fill="#9040ff"/><path d="M2044.0 1490.9L2061.1 1481.4L2061.1 1500.4Z" fill="#9040ff"/><path d="M2091.7 1472.1L2108.8 1462.6L2108.8 1481.6Z" fill="#9040ff"/>
</svg></body></html>
